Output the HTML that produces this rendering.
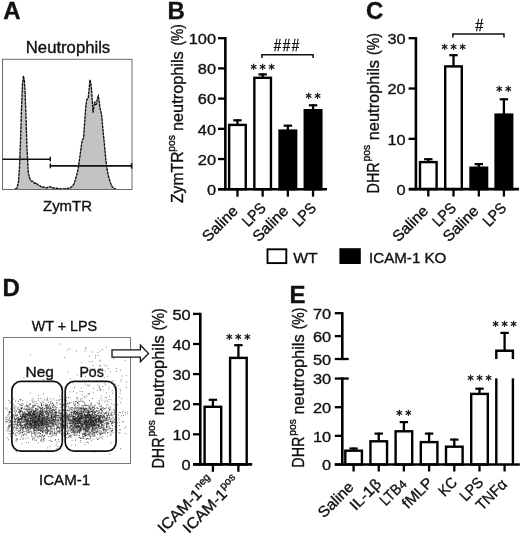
<!DOCTYPE html>
<html lang="en"><head><meta charset="utf-8"><title>Figure</title>
<style>html,body{margin:0;padding:0;background:#fff}svg{display:block}text{font-family:"Liberation Sans",sans-serif;fill:#111;stroke:#111;stroke-width:.35px}.st{font-family:"DejaVu Sans","Liberation Sans",sans-serif;stroke:#111;stroke-width:.45px;fill:#111}.ns{stroke:none}</style></head><body>
<svg width="520" height="537" viewBox="0 0 520 537">
<rect width="520" height="537" fill="#fff"/>
<text x="3.30" y="19.40" font-size="24" font-weight="bold" fill="#000">A</text>
<text x="167.50" y="19.40" font-size="24" font-weight="bold" fill="#000">B</text>
<text x="366.00" y="19.40" font-size="24" font-weight="bold" fill="#000">C</text>
<text x="2.60" y="296.40" font-size="24" font-weight="bold" fill="#000">D</text>
<text x="289.40" y="303.20" font-size="24" font-weight="bold" fill="#000">E</text>
<text x="68.00" y="52.90" font-size="15.6" text-anchor="middle" textLength="84.40" lengthAdjust="spacingAndGlyphs">Neutrophils</text>
<path d="M15.0 189.0 L17.0 188.0 L18.5 181.9 L19.5 166.6 L20.5 141.2 L21.5 108.6 L22.5 84.1 L23.4 76.0 L24.3 80.1 L25.0 90.3 L26.0 116.7 L27.0 148.3 L28.3 172.7 L29.5 177.8 L31.0 180.9 L33.0 181.4 L34.5 183.4 L36.0 182.9 L38.0 184.9 L40.0 185.9 L42.0 187.5 L44.0 187.0 L46.0 188.0 L48.0 187.5 L50.0 186.6 L52.0 187.5 L54.0 188.0 L58.0 188.5 L62.0 189.0 L66.0 188.5 L70.0 188.0 L72.0 186.5 L74.0 183.9 L76.0 177.8 L78.0 169.7 L79.5 159.5 L81.0 148.3 L82.0 141.2 L83.5 138.1 L84.5 124.9 L85.6 108.6 L86.7 100.0 L88.3 97.4 L89.2 88.2 L90.0 79.8 L90.8 83.1 L91.5 89.2 L92.3 100.4 L93.0 112.6 L93.9 106.5 L94.8 101.5 L95.6 104.5 L96.4 104.2 L97.4 98.4 L98.3 96.0 L99.2 101.5 L100.0 108.3 L101.0 111.6 L101.8 116.5 L103.0 130.0 L104.3 143.2 L106.0 161.5 L107.5 171.7 L109.0 178.3 L110.5 182.9 L112.0 186.6 L114.0 188.3 L116.0 189.0 Z" fill="#c3c3c3" stroke="none"/>
<path d="M15.0 189.0 L17.0 188.0 L18.5 181.9 L19.5 166.6 L20.5 141.2 L21.5 108.6 L22.5 84.1 L23.4 76.0 L24.3 80.1 L25.0 90.3 L26.0 116.7 L27.0 148.3 L28.3 172.7 L29.5 177.8 L31.0 180.9 L33.0 181.4 L34.5 183.4 L36.0 182.9 L38.0 184.9 L40.0 185.9 L42.0 187.5 L44.0 187.0 L46.0 188.0 L48.0 187.5 L50.0 186.6 L52.0 187.5 L54.0 188.0 L58.0 188.5 L62.0 189.0 L66.0 188.5 L70.0 188.0 L72.0 186.5 L74.0 183.9 L76.0 177.8 L78.0 169.7 L79.5 159.5 L81.0 148.3 L82.0 141.2 L83.5 138.1 L84.5 124.9 L85.6 108.6 L86.7 100.0 L88.3 97.4 L89.2 88.2 L90.0 79.8 L90.8 83.1 L91.5 89.2 L92.3 100.4 L93.0 112.6 L93.9 106.5 L94.8 101.5 L95.6 104.5 L96.4 104.2 L97.4 98.4 L98.3 96.0 L99.2 101.5 L100.0 108.3 L101.0 111.6 L101.8 116.5 L103.0 130.0 L104.3 143.2 L106.0 161.5 L107.5 171.7 L109.0 178.3 L110.5 182.9 L112.0 186.6 L114.0 188.3 L116.0 189.0" fill="none" stroke="#0a0a0a" stroke-width="1.3" stroke-dasharray="3 0.6"/>
<rect x="2.50" y="59.30" width="129.50" height="130.20" fill="none" stroke="#6a6a6a" stroke-width="1"/>
<line x1="2.50" y1="159.20" x2="50.30" y2="159.20" stroke="#111" stroke-width="1.6" stroke-linecap="butt"/>
<line x1="50.30" y1="156.80" x2="50.30" y2="161.60" stroke="#111" stroke-width="1.4" stroke-linecap="butt"/>
<line x1="50.30" y1="165.90" x2="132.00" y2="165.90" stroke="#111" stroke-width="1.6" stroke-linecap="butt"/>
<line x1="50.30" y1="163.60" x2="50.30" y2="168.20" stroke="#111" stroke-width="1.4" stroke-linecap="butt"/>
<line x1="131.60" y1="163.20" x2="131.60" y2="168.60" stroke="#111" stroke-width="1.6" stroke-linecap="butt"/>
<text x="67.50" y="211.00" font-size="15.2" text-anchor="middle" textLength="49.00" lengthAdjust="spacingAndGlyphs">ZymTR</text>
<line x1="225.35" y1="37.10" x2="225.35" y2="190.50" stroke="#000" stroke-width="2.6" stroke-linecap="butt"/>
<line x1="218.05" y1="189.25" x2="225.35" y2="189.25" stroke="#000" stroke-width="2.3" stroke-linecap="butt"/>
<text x="216.00" y="194.95" font-size="15.3" text-anchor="end" textLength="9.10" lengthAdjust="spacingAndGlyphs">0</text>
<line x1="218.05" y1="159.04" x2="225.35" y2="159.04" stroke="#000" stroke-width="2.3" stroke-linecap="butt"/>
<text x="216.00" y="164.74" font-size="15.3" text-anchor="end" textLength="18.20" lengthAdjust="spacingAndGlyphs">20</text>
<line x1="218.05" y1="128.83" x2="225.35" y2="128.83" stroke="#000" stroke-width="2.3" stroke-linecap="butt"/>
<text x="216.00" y="134.53" font-size="15.3" text-anchor="end" textLength="18.20" lengthAdjust="spacingAndGlyphs">40</text>
<line x1="218.05" y1="98.62" x2="225.35" y2="98.62" stroke="#000" stroke-width="2.3" stroke-linecap="butt"/>
<text x="216.00" y="104.32" font-size="15.3" text-anchor="end" textLength="18.20" lengthAdjust="spacingAndGlyphs">60</text>
<line x1="218.05" y1="68.41" x2="225.35" y2="68.41" stroke="#000" stroke-width="2.3" stroke-linecap="butt"/>
<text x="216.00" y="74.11" font-size="15.3" text-anchor="end" textLength="18.20" lengthAdjust="spacingAndGlyphs">80</text>
<line x1="218.05" y1="38.20" x2="225.35" y2="38.20" stroke="#000" stroke-width="2.3" stroke-linecap="butt"/>
<text x="216.00" y="43.90" font-size="15.3" text-anchor="end" textLength="27.30" lengthAdjust="spacingAndGlyphs">100</text>
<line x1="237.45" y1="119.40" x2="237.45" y2="124.70" stroke="#000" stroke-width="2.3" stroke-linecap="butt"/>
<line x1="233.25" y1="120.30" x2="241.65" y2="120.30" stroke="#000" stroke-width="2.2" stroke-linecap="butt"/>
<rect x="229.15" y="124.90" width="16.60" height="64.35" fill="#fff" stroke="#000" stroke-width="2.4"/>
<line x1="262.65" y1="73.50" x2="262.65" y2="77.60" stroke="#000" stroke-width="2.3" stroke-linecap="butt"/>
<line x1="258.45" y1="74.40" x2="266.85" y2="74.40" stroke="#000" stroke-width="2.2" stroke-linecap="butt"/>
<rect x="254.35" y="77.80" width="16.60" height="111.45" fill="#fff" stroke="#000" stroke-width="2.4"/>
<line x1="287.85" y1="124.80" x2="287.85" y2="130.40" stroke="#000" stroke-width="2.3" stroke-linecap="butt"/>
<line x1="283.65" y1="125.70" x2="292.05" y2="125.70" stroke="#000" stroke-width="2.2" stroke-linecap="butt"/>
<rect x="279.55" y="130.60" width="16.60" height="58.65" fill="#000" stroke="#000" stroke-width="2.4"/>
<line x1="313.05" y1="104.40" x2="313.05" y2="110.00" stroke="#000" stroke-width="2.3" stroke-linecap="butt"/>
<line x1="308.85" y1="105.30" x2="317.25" y2="105.30" stroke="#000" stroke-width="2.2" stroke-linecap="butt"/>
<rect x="304.75" y="110.20" width="16.60" height="79.05" fill="#000" stroke="#000" stroke-width="2.4"/>
<line x1="218.30" y1="189.25" x2="327.00" y2="189.25" stroke="#000" stroke-width="2.6" stroke-linecap="butt"/>
<line x1="237.45" y1="189.25" x2="237.45" y2="196.65" stroke="#000" stroke-width="2.3" stroke-linecap="butt"/>
<line x1="262.65" y1="189.25" x2="262.65" y2="196.65" stroke="#000" stroke-width="2.3" stroke-linecap="butt"/>
<line x1="287.85" y1="189.25" x2="287.85" y2="196.65" stroke="#000" stroke-width="2.3" stroke-linecap="butt"/>
<line x1="313.05" y1="189.25" x2="313.05" y2="196.65" stroke="#000" stroke-width="2.3" stroke-linecap="butt"/>
<path d="M261.90 58.10 V54.70 H313.10 V58.10" fill="none" stroke="#111" stroke-width="1.5"/>
<text x="277.60" y="50.80" font-size="15.8" text-anchor="middle" textLength="7.50" lengthAdjust="spacingAndGlyphs">#</text>
<text x="286.50" y="50.80" font-size="15.8" text-anchor="middle" textLength="7.50" lengthAdjust="spacingAndGlyphs">#</text>
<text x="295.40" y="50.80" font-size="15.8" text-anchor="middle" textLength="7.50" lengthAdjust="spacingAndGlyphs">#</text>
<text class="st" x="253.65 262.65 271.65" y="73.20" font-size="12.4" text-anchor="middle">***</text>
<text class="st" x="308.55 317.55" y="101.60" font-size="12.4" text-anchor="middle">**</text>
<g transform="translate(238.95,212.00) rotate(-45)">
<text x="-43.30" y="0.00" font-size="15.2" textLength="43.30" lengthAdjust="spacingAndGlyphs">Saline</text>
</g>
<g transform="translate(266.75,208.90) rotate(-45)">
<text x="-26.20" y="0.00" font-size="15.2" textLength="26.20" lengthAdjust="spacingAndGlyphs">LPS</text>
</g>
<g transform="translate(289.35,212.00) rotate(-45)">
<text x="-43.30" y="0.00" font-size="15.2" textLength="43.30" lengthAdjust="spacingAndGlyphs">Saline</text>
</g>
<g transform="translate(317.15,208.90) rotate(-45)">
<text x="-26.20" y="0.00" font-size="15.2" textLength="26.20" lengthAdjust="spacingAndGlyphs">LPS</text>
</g>
<g transform="translate(183.40,0) rotate(-90)">
<text x="-203.00" y="0.00" font-size="16" textLength="51.50" lengthAdjust="spacingAndGlyphs">ZymTR</text>
<text x="-151.70" y="-8.40" font-size="11.0" textLength="16.60" lengthAdjust="spacingAndGlyphs">pos</text>
<text x="-131.00" y="0.00" font-size="16" textLength="79.70" lengthAdjust="spacingAndGlyphs">neutrophils</text>
<text x="-45.60" y="0.00" font-size="16" textLength="21.30" lengthAdjust="spacingAndGlyphs">(%)</text>
</g>
<line x1="415.90" y1="37.09" x2="415.90" y2="190.40" stroke="#000" stroke-width="2.6" stroke-linecap="butt"/>
<line x1="408.60" y1="189.15" x2="415.90" y2="189.15" stroke="#000" stroke-width="2.3" stroke-linecap="butt"/>
<text x="405.70" y="194.85" font-size="15.3" text-anchor="end" textLength="9.10" lengthAdjust="spacingAndGlyphs">0</text>
<line x1="408.60" y1="138.83" x2="415.90" y2="138.83" stroke="#000" stroke-width="2.3" stroke-linecap="butt"/>
<text x="405.70" y="144.53" font-size="15.3" text-anchor="end" textLength="18.20" lengthAdjust="spacingAndGlyphs">10</text>
<line x1="408.60" y1="88.51" x2="415.90" y2="88.51" stroke="#000" stroke-width="2.3" stroke-linecap="butt"/>
<text x="405.70" y="94.21" font-size="15.3" text-anchor="end" textLength="18.20" lengthAdjust="spacingAndGlyphs">20</text>
<line x1="408.60" y1="38.19" x2="415.90" y2="38.19" stroke="#000" stroke-width="2.3" stroke-linecap="butt"/>
<text x="405.70" y="43.89" font-size="15.3" text-anchor="end" textLength="18.20" lengthAdjust="spacingAndGlyphs">30</text>
<line x1="428.30" y1="158.30" x2="428.30" y2="161.90" stroke="#000" stroke-width="2.3" stroke-linecap="butt"/>
<line x1="424.10" y1="159.20" x2="432.50" y2="159.20" stroke="#000" stroke-width="2.2" stroke-linecap="butt"/>
<rect x="420.00" y="162.10" width="16.60" height="27.05" fill="#fff" stroke="#000" stroke-width="2.4"/>
<line x1="453.50" y1="54.30" x2="453.50" y2="66.20" stroke="#000" stroke-width="2.3" stroke-linecap="butt"/>
<line x1="449.30" y1="55.20" x2="457.70" y2="55.20" stroke="#000" stroke-width="2.2" stroke-linecap="butt"/>
<rect x="445.20" y="66.40" width="16.60" height="122.75" fill="#fff" stroke="#000" stroke-width="2.4"/>
<line x1="478.80" y1="163.20" x2="478.80" y2="167.50" stroke="#000" stroke-width="2.3" stroke-linecap="butt"/>
<line x1="474.60" y1="164.10" x2="483.00" y2="164.10" stroke="#000" stroke-width="2.2" stroke-linecap="butt"/>
<rect x="470.50" y="167.70" width="16.60" height="21.45" fill="#000" stroke="#000" stroke-width="2.4"/>
<line x1="503.90" y1="98.40" x2="503.90" y2="114.40" stroke="#000" stroke-width="2.3" stroke-linecap="butt"/>
<line x1="499.70" y1="99.30" x2="508.10" y2="99.30" stroke="#000" stroke-width="2.2" stroke-linecap="butt"/>
<rect x="495.60" y="114.60" width="16.60" height="74.55" fill="#000" stroke="#000" stroke-width="2.4"/>
<line x1="409.00" y1="189.15" x2="519.00" y2="189.15" stroke="#000" stroke-width="2.6" stroke-linecap="butt"/>
<line x1="428.30" y1="189.15" x2="428.30" y2="196.55" stroke="#000" stroke-width="2.3" stroke-linecap="butt"/>
<line x1="453.50" y1="189.15" x2="453.50" y2="196.55" stroke="#000" stroke-width="2.3" stroke-linecap="butt"/>
<line x1="478.80" y1="189.15" x2="478.80" y2="196.55" stroke="#000" stroke-width="2.3" stroke-linecap="butt"/>
<line x1="503.90" y1="189.15" x2="503.90" y2="196.55" stroke="#000" stroke-width="2.3" stroke-linecap="butt"/>
<path d="M452.90 37.50 V34.10 H504.00 V37.50" fill="none" stroke="#111" stroke-width="1.5"/>
<text x="479.20" y="31.30" font-size="15.8" text-anchor="middle" textLength="8.00" lengthAdjust="spacingAndGlyphs">#</text>
<text class="st" x="444.50 453.50 462.50" y="52.80" font-size="12.4" text-anchor="middle">***</text>
<text class="st" x="499.40 508.40" y="95.20" font-size="12.4" text-anchor="middle">**</text>
<g transform="translate(429.20,212.00) rotate(-45)">
<text x="-43.30" y="0.00" font-size="15.2" textLength="43.30" lengthAdjust="spacingAndGlyphs">Saline</text>
</g>
<g transform="translate(457.00,208.90) rotate(-45)">
<text x="-26.20" y="0.00" font-size="15.2" textLength="26.20" lengthAdjust="spacingAndGlyphs">LPS</text>
</g>
<g transform="translate(479.70,212.00) rotate(-45)">
<text x="-43.30" y="0.00" font-size="15.2" textLength="43.30" lengthAdjust="spacingAndGlyphs">Saline</text>
</g>
<g transform="translate(507.40,208.90) rotate(-45)">
<text x="-26.20" y="0.00" font-size="15.2" textLength="26.20" lengthAdjust="spacingAndGlyphs">LPS</text>
</g>
<g transform="translate(378.80,0) rotate(-90)">
<text x="-193.40" y="0.00" font-size="16" textLength="31.10" lengthAdjust="spacingAndGlyphs">DHR</text>
<text x="-161.40" y="-8.40" font-size="11.0" textLength="16.50" lengthAdjust="spacingAndGlyphs">pos</text>
<text x="-140.30" y="0.00" font-size="16" textLength="80.30" lengthAdjust="spacingAndGlyphs">neutrophils</text>
<text x="-55.00" y="0.00" font-size="16" textLength="21.80" lengthAdjust="spacingAndGlyphs">(%)</text>
</g>
<rect x="267.50" y="249.30" width="18.80" height="13.80" fill="#fff" stroke="#000" stroke-width="1.9"/>
<text x="293.30" y="263.30" font-size="15.2" textLength="24.40" lengthAdjust="spacingAndGlyphs">WT</text>
<rect x="339.40" y="248.20" width="21.40" height="15.80" fill="#000" stroke="#000" stroke-width="0"/>
<text x="369.00" y="263.30" font-size="15.2" textLength="77.40" lengthAdjust="spacingAndGlyphs">ICAM-1 KO</text>
<text x="64.40" y="331.40" font-size="15.2" text-anchor="middle" textLength="65.40" lengthAdjust="spacingAndGlyphs">WT + LPS</text>
<path d="M31.4 424.0h.9M31.8 417.5h.9M22.0 418.3h.9M50.6 423.3h.9M49.5 421.9h.9M40.5 421.4h.9M11.7 426.7h.9M42.1 423.9h.9M11.3 406.4h.9M22.5 416.3h.9M39.3 419.6h.9M42.3 415.0h.9M39.3 423.1h.9M25.7 433.4h.9M42.8 429.3h.9M26.3 414.2h.9M30.2 419.2h.9M43.8 421.9h.9M28.7 412.5h.9M27.7 429.5h.9M23.7 421.9h.9M41.0 408.4h.9M35.7 430.2h.9M6.8 417.5h.9M33.5 413.6h.9M42.0 419.5h.9M14.5 426.5h.9M44.4 427.4h.9M55.2 422.8h.9M36.7 409.9h.9M43.6 415.2h.9M28.7 410.1h.9M21.5 415.9h.9M53.0 404.2h.9M14.6 421.9h.9M55.2 424.5h.9M8.4 400.4h.9M40.0 414.3h.9M19.3 427.6h.9M50.4 421.2h.9M38.4 423.4h.9M57.3 424.8h.9M42.3 424.3h.9M13.0 430.0h.9M48.4 424.1h.9M7.4 415.1h.9M46.8 405.9h.9M32.4 428.0h.9M16.6 432.6h.9M42.7 418.8h.9M39.5 425.1h.9M36.7 428.9h.9M25.7 416.8h.9M49.6 420.2h.9M22.7 427.4h.9M55.5 416.5h.9M15.7 418.9h.9M32.9 417.7h.9M54.7 412.0h.9M52.6 410.1h.9M24.0 424.9h.9M50.8 426.7h.9M39.8 421.1h.9M37.1 424.5h.9M32.5 422.2h.9M43.0 420.0h.9M45.7 424.4h.9M63.1 422.5h.9M29.0 417.1h.9M34.8 427.2h.9M30.3 423.0h.9M60.7 400.0h.9M19.3 421.9h.9M40.6 421.9h.9M29.0 425.1h.9M38.9 415.9h.9M69.0 422.8h.9M27.2 419.2h.9M31.8 419.5h.9M49.1 410.9h.9M34.1 427.4h.9M47.0 431.6h.9M11.2 417.2h.9M30.2 424.9h.9M50.3 399.1h.9M50.2 408.7h.9M44.6 408.4h.9M37.5 429.3h.9M32.9 421.5h.9M46.2 421.1h.9M33.8 432.0h.9M49.7 417.7h.9M73.4 411.1h.9M47.8 417.9h.9M36.9 425.5h.9M38.1 425.0h.9M13.6 408.2h.9M43.6 412.5h.9M20.6 408.5h.9M52.7 425.8h.9M55.6 412.7h.9M35.0 411.1h.9M45.7 432.4h.9M22.5 432.2h.9M48.8 418.6h.9M7.4 431.0h.9M33.7 415.3h.9M40.6 423.2h.9M56.0 412.0h.9M50.9 431.6h.9M55.3 418.6h.9M24.6 427.9h.9M36.6 421.0h.9M54.9 417.9h.9M9.0 426.4h.9M39.4 415.2h.9M34.9 426.5h.9M36.1 430.3h.9M34.1 428.1h.9M55.9 432.6h.9M25.6 426.9h.9M8.7 411.5h.9M7.5 428.3h.9M17.8 419.9h.9M32.3 419.8h.9M26.7 421.8h.9M60.1 420.3h.9M42.4 427.8h.9M32.2 410.2h.9M27.2 428.4h.9M12.0 415.3h.9M49.1 426.2h.9M35.1 426.3h.9M37.3 410.8h.9M13.1 415.0h.9M47.9 415.6h.9M22.4 414.0h.9M13.6 419.1h.9M18.5 422.8h.9M26.0 404.9h.9M45.1 417.9h.9M39.1 416.4h.9M45.9 425.8h.9M44.3 422.5h.9M53.7 425.1h.9M41.3 403.7h.9M47.6 430.2h.9M30.8 416.3h.9M62.2 406.3h.9M41.6 438.9h.9M22.0 425.4h.9M61.4 419.1h.9M42.9 427.0h.9M22.3 419.3h.9M39.1 426.4h.9M34.5 418.5h.9M20.8 417.2h.9M47.5 420.8h.9M23.1 413.4h.9M72.3 428.9h.9M43.9 399.8h.9M43.7 423.7h.9M58.6 423.3h.9M34.1 424.1h.9M7.8 428.1h.9M39.5 414.5h.9M53.6 434.1h.9M15.4 414.8h.9M39.1 421.4h.9M29.4 412.4h.9M64.7 428.1h.9M18.3 409.5h.9M58.8 427.7h.9M60.5 426.3h.9M22.8 422.0h.9M34.2 424.1h.9M24.8 419.0h.9M41.4 422.9h.9M43.9 421.6h.9M30.5 426.2h.9M35.7 413.6h.9M26.2 420.0h.9M33.5 421.2h.9M35.0 421.4h.9M33.1 410.2h.9M40.9 428.2h.9M41.1 418.5h.9M41.3 412.5h.9M8.5 420.5h.9M22.0 425.8h.9M19.8 399.5h.9M20.4 432.3h.9M29.7 409.3h.9M24.3 424.1h.9M42.0 421.4h.9M55.8 425.5h.9M34.7 424.7h.9M58.2 427.6h.9M49.3 411.6h.9M32.9 425.7h.9M30.8 428.3h.9M43.3 427.1h.9M32.0 439.9h.9M52.4 418.3h.9M36.3 440.2h.9M30.2 426.8h.9M48.7 420.1h.9M18.7 421.5h.9M40.0 428.8h.9M46.0 420.2h.9M47.0 424.2h.9M37.9 420.4h.9M31.6 425.4h.9M20.2 415.1h.9M35.1 408.6h.9M28.9 404.3h.9M25.4 424.4h.9M42.9 419.6h.9M31.8 408.9h.9M60.6 424.0h.9M50.3 413.1h.9M32.4 405.8h.9M45.9 427.3h.9M8.4 419.6h.9M43.8 406.3h.9M9.4 411.7h.9M26.2 409.1h.9M35.4 421.9h.9M43.9 425.5h.9M56.0 429.1h.9M16.6 416.1h.9M20.2 411.6h.9M33.9 420.0h.9M41.9 407.6h.9M17.7 419.8h.9M32.2 417.6h.9M34.1 414.1h.9M44.8 422.8h.9M33.8 414.8h.9M32.6 398.8h.9M21.3 420.3h.9M13.9 421.6h.9M37.1 409.3h.9M31.5 417.6h.9M41.4 424.8h.9M34.5 413.4h.9M33.0 419.5h.9M45.3 422.3h.9M24.9 409.4h.9M29.8 414.2h.9M19.4 419.1h.9M28.1 420.8h.9M42.3 416.8h.9M67.5 417.5h.9M50.4 420.9h.9M50.6 401.5h.9M24.5 421.9h.9M43.4 438.2h.9M39.5 430.0h.9M45.7 427.4h.9M42.1 418.8h.9M42.1 411.6h.9M51.5 412.1h.9M38.5 436.5h.9M31.9 420.2h.9M51.3 420.2h.9M23.7 422.0h.9M43.1 425.5h.9M24.2 433.7h.9M58.3 420.1h.9M38.8 416.7h.9M54.8 414.5h.9M44.4 416.3h.9M25.3 425.6h.9M53.7 419.9h.9M25.5 426.3h.9M34.3 422.4h.9M56.3 428.8h.9M27.7 437.8h.9M35.0 426.1h.9M25.9 419.7h.9M10.5 433.9h.9M54.1 410.5h.9M13.9 407.4h.9M51.5 416.4h.9M34.2 417.6h.9M33.3 411.5h.9M35.3 408.8h.9M34.0 422.4h.9M41.5 418.2h.9M22.3 421.2h.9M28.2 432.2h.9M45.7 419.1h.9M28.4 414.5h.9M21.9 417.2h.9M39.1 424.0h.9M43.0 436.4h.9M25.1 420.1h.9M74.1 405.4h.9M27.7 421.3h.9M37.2 423.2h.9M31.7 422.9h.9M35.7 426.0h.9M8.5 413.1h.9M35.0 412.0h.9M20.4 424.9h.9M25.9 425.0h.9M45.4 422.4h.9M42.1 419.2h.9M15.3 419.8h.9M41.4 415.9h.9M33.6 425.8h.9M22.7 425.0h.9M61.1 415.7h.9M37.1 418.8h.9M56.6 422.5h.9M47.6 414.6h.9M34.8 419.9h.9M10.1 431.2h.9M47.6 406.4h.9M45.4 419.0h.9M41.3 422.9h.9M14.0 418.3h.9M55.9 415.5h.9M20.7 409.4h.9M17.9 422.6h.9M58.7 423.3h.9M38.4 437.4h.9M27.7 414.7h.9M42.4 424.3h.9M20.8 410.9h.9M39.1 421.9h.9M16.7 418.4h.9M27.4 423.6h.9M33.4 419.3h.9M30.1 428.2h.9M54.5 417.1h.9M46.8 414.1h.9M36.0 425.8h.9M56.2 417.0h.9M34.0 421.5h.9M14.0 420.1h.9M25.5 422.9h.9M19.2 404.6h.9M35.5 422.0h.9M27.3 426.9h.9M31.2 415.3h.9M41.7 407.8h.9M25.5 419.8h.9M46.9 418.7h.9M39.3 414.9h.9M39.2 433.0h.9M25.4 438.5h.9M26.0 420.1h.9M37.4 428.0h.9M17.7 403.6h.9M43.5 426.2h.9M43.7 440.5h.9M37.9 422.0h.9M48.0 422.9h.9M58.3 410.3h.9M29.7 393.1h.9M46.4 417.1h.9M47.9 436.8h.9M34.9 418.0h.9M28.0 413.5h.9M26.2 425.0h.9M35.5 420.5h.9M32.6 427.1h.9M41.9 418.9h.9M44.3 418.8h.9M18.9 431.4h.9M41.5 412.5h.9M50.1 422.7h.9M13.1 432.6h.9M39.7 427.0h.9M37.8 418.8h.9M13.3 427.6h.9M35.4 417.8h.9M39.9 420.6h.9M44.5 417.1h.9M34.5 403.3h.9M29.1 425.3h.9M53.7 417.2h.9M33.3 432.4h.9M30.4 425.7h.9M58.5 420.3h.9M52.2 414.5h.9M37.9 419.4h.9M36.6 428.8h.9M68.5 414.8h.9M26.9 423.9h.9M20.2 423.9h.9M43.0 417.8h.9M42.4 407.9h.9M45.6 408.0h.9M25.2 415.7h.9M29.4 426.7h.9M36.1 416.9h.9M42.6 432.3h.9M35.1 422.9h.9M52.4 422.1h.9M17.0 439.4h.9M65.9 404.5h.9M34.5 423.3h.9M48.5 425.2h.9M31.2 411.8h.9M36.4 428.1h.9M19.7 412.0h.9M34.7 404.9h.9M31.4 416.6h.9M41.3 414.5h.9M22.7 416.9h.9M34.3 414.8h.9M35.2 425.9h.9M51.6 433.3h.9M24.0 416.7h.9M24.9 419.7h.9M42.3 409.4h.9M41.5 419.8h.9M9.4 422.3h.9M51.7 405.4h.9M46.3 421.6h.9M41.6 423.4h.9M53.3 418.3h.9M47.2 416.8h.9M45.2 413.7h.9M33.5 433.5h.9M41.2 418.8h.9M19.0 413.8h.9M37.7 427.3h.9M41.0 424.1h.9M34.4 430.5h.9M29.5 415.7h.9M47.4 420.5h.9M31.1 415.5h.9M31.4 424.9h.9M40.0 410.6h.9M41.0 421.4h.9M21.0 426.0h.9M31.1 417.4h.9M46.1 430.3h.9M25.4 423.4h.9M22.7 438.1h.9M28.1 429.3h.9M25.9 426.3h.9M66.1 400.2h.9M28.9 423.9h.9M33.7 414.8h.9M65.1 420.6h.9M12.0 426.7h.9M10.9 429.0h.9M26.9 421.1h.9M52.7 420.9h.9M15.5 406.8h.9M51.6 425.8h.9M23.6 426.7h.9M42.0 425.1h.9M47.6 425.7h.9M47.3 400.8h.9M37.4 423.8h.9M70.7 412.6h.9M30.4 420.3h.9M47.4 416.5h.9M51.1 413.9h.9M38.7 415.9h.9M37.2 414.6h.9M12.6 428.5h.9M39.2 415.6h.9M37.8 427.7h.9M21.3 419.1h.9M42.5 424.1h.9M30.3 403.6h.9M52.4 422.6h.9M35.2 417.8h.9M38.7 416.7h.9M20.7 414.2h.9M26.6 415.2h.9M18.8 425.0h.9M16.7 425.1h.9M20.8 422.7h.9M54.2 421.6h.9M24.8 420.4h.9M37.1 406.5h.9M26.5 421.3h.9M28.4 420.6h.9M45.3 426.0h.9M47.7 424.6h.9M31.0 419.9h.9M31.2 417.6h.9M32.5 406.5h.9M30.3 419.8h.9M21.4 419.8h.9M42.2 418.7h.9M64.1 399.7h.9M32.1 405.8h.9M48.7 440.7h.9M42.3 417.6h.9M42.7 402.5h.9M46.9 422.9h.9M35.3 415.4h.9M43.9 416.2h.9M38.1 416.0h.9M37.8 425.9h.9M22.7 419.7h.9M43.6 421.1h.9M52.4 435.5h.9M22.3 405.0h.9M47.0 431.9h.9M47.9 426.3h.9M26.3 414.4h.9M47.4 412.9h.9M9.6 412.2h.9M69.9 435.0h.9M25.4 414.3h.9M38.2 414.2h.9M53.3 419.4h.9M19.8 430.2h.9M26.8 421.7h.9M34.8 417.5h.9M39.5 414.6h.9M9.2 402.8h.9M17.3 414.1h.9M34.7 420.4h.9M42.8 420.9h.9M23.9 414.5h.9M5.3 418.7h.9M41.8 424.1h.9M33.3 418.6h.9M48.1 420.1h.9M45.3 424.5h.9M38.0 430.2h.9M27.0 417.2h.9M23.7 413.8h.9M56.8 433.7h.9M35.3 424.4h.9M51.5 426.3h.9M51.9 410.1h.9M26.0 423.5h.9M55.1 420.8h.9M23.0 417.2h.9M25.8 413.3h.9M56.0 415.1h.9M35.3 436.9h.9M51.6 422.6h.9M26.4 423.2h.9M57.7 424.9h.9M52.7 420.8h.9M42.2 418.4h.9M41.0 430.1h.9M15.0 419.5h.9M38.4 415.5h.9M30.7 426.1h.9M63.0 424.9h.9M39.6 407.9h.9M62.0 420.6h.9M34.5 411.3h.9M34.2 411.5h.9M36.0 423.6h.9M35.4 422.2h.9M23.1 431.2h.9M25.9 405.8h.9M32.4 414.0h.9M20.9 417.2h.9M39.1 410.8h.9M33.1 431.1h.9M44.6 418.8h.9M36.8 419.1h.9M34.3 425.7h.9M33.7 401.2h.9M34.7 413.1h.9M44.1 415.2h.9M37.1 437.0h.9M20.3 411.2h.9M15.2 401.3h.9M8.7 422.8h.9M26.1 405.4h.9M14.2 424.8h.9M24.1 417.1h.9M39.6 430.6h.9M62.2 428.1h.9M37.0 421.4h.9M60.2 431.1h.9M30.7 423.6h.9M39.0 420.4h.9M28.0 409.7h.9M27.5 408.0h.9M52.1 424.2h.9M18.1 430.9h.9M47.5 405.1h.9M60.8 426.3h.9M63.9 410.4h.9M42.4 423.3h.9M37.8 421.3h.9M49.7 408.3h.9M17.6 409.1h.9M27.2 415.3h.9M40.1 422.1h.9M35.4 414.7h.9M28.8 427.4h.9M45.7 420.8h.9M30.5 432.1h.9M26.7 425.1h.9M51.2 417.9h.9M46.6 411.3h.9M49.2 421.6h.9M12.8 425.2h.9M22.5 430.0h.9M25.5 418.7h.9M39.0 417.4h.9M38.6 415.7h.9M44.4 420.0h.9M38.0 398.5h.9M51.3 420.2h.9M10.0 420.7h.9M41.5 428.4h.9M19.8 432.1h.9M32.8 438.7h.9M33.0 425.3h.9M29.9 411.3h.9M50.4 427.1h.9M56.5 426.7h.9M27.0 407.0h.9M25.9 414.7h.9M23.6 424.5h.9M39.6 417.9h.9M37.4 418.9h.9M38.0 425.9h.9M48.4 414.6h.9M13.9 431.1h.9M36.6 428.6h.9M12.0 417.4h.9M35.4 408.8h.9M27.8 425.7h.9M50.1 432.4h.9M22.9 409.1h.9M42.3 427.3h.9M37.7 409.8h.9M45.9 426.2h.9M42.7 416.2h.9M39.3 426.2h.9M27.2 405.6h.9M39.6 423.8h.9M35.2 426.9h.9M26.8 419.4h.9M30.7 424.5h.9M57.3 418.0h.9M63.8 431.9h.9M46.1 424.6h.9M59.8 418.6h.9M33.4 411.7h.9M41.6 430.5h.9M42.5 423.3h.9M32.2 421.3h.9M15.0 428.2h.9M29.3 411.4h.9M24.5 413.6h.9M47.0 428.3h.9M16.0 427.2h.9M47.4 415.5h.9M14.2 414.2h.9M26.1 422.7h.9M30.0 404.2h.9M38.3 408.0h.9M47.7 410.6h.9M25.3 413.3h.9M27.4 430.1h.9M46.9 424.7h.9M39.5 407.9h.9M27.7 415.7h.9M21.3 424.0h.9M24.6 414.5h.9M20.4 404.0h.9M43.3 430.4h.9M37.4 412.4h.9M52.0 422.3h.9M48.0 431.5h.9M50.8 416.6h.9M49.7 426.1h.9M13.5 416.8h.9M15.1 419.1h.9M43.1 411.7h.9M6.2 430.1h.9M40.3 431.5h.9M16.5 428.3h.9M64.0 435.7h.9M32.1 422.1h.9M32.8 427.8h.9M49.5 420.7h.9M16.0 425.8h.9M28.4 424.9h.9M38.7 432.7h.9M50.9 416.5h.9M39.9 433.8h.9M27.5 423.4h.9M51.7 429.8h.9M42.3 409.7h.9M17.3 421.9h.9M40.4 439.9h.9M22.9 428.9h.9M45.8 407.0h.9M23.5 421.3h.9M28.1 418.8h.9M41.6 413.7h.9M41.5 415.0h.9M27.4 424.2h.9M27.0 422.2h.9M57.4 420.2h.9M33.0 425.7h.9M29.9 428.4h.9M17.0 424.8h.9M27.8 413.8h.9M59.8 413.4h.9M59.6 425.1h.9M55.3 412.4h.9M51.8 431.4h.9M33.4 419.0h.9M69.4 421.4h.9M29.1 415.1h.9M41.2 422.6h.9M37.5 433.4h.9M30.4 423.7h.9M55.4 412.2h.9M49.5 434.3h.9M16.0 411.4h.9M20.5 405.6h.9M41.3 405.5h.9M42.0 431.3h.9M12.4 417.5h.9M8.1 426.1h.9M24.7 417.9h.9M35.8 424.3h.9M30.1 420.1h.9M27.3 420.9h.9M18.6 420.5h.9M7.9 416.2h.9M61.8 420.6h.9M17.4 422.0h.9M21.4 407.1h.9M24.7 425.7h.9M40.4 419.2h.9M22.0 411.6h.9M53.9 421.9h.9M21.7 403.5h.9M15.8 439.3h.9M18.9 419.4h.9M37.9 418.8h.9M31.1 409.3h.9M20.3 433.2h.9M24.4 426.6h.9M11.3 417.9h.9M38.7 428.1h.9M19.3 424.6h.9M40.4 414.2h.9M41.7 413.0h.9M23.9 419.9h.9M21.0 408.6h.9M29.0 426.0h.9M29.3 429.9h.9M18.8 409.8h.9M56.7 423.1h.9M48.2 413.6h.9M46.3 422.0h.9M44.1 420.2h.9M51.9 414.9h.9M21.5 408.5h.9M51.2 414.2h.9M20.4 412.7h.9M28.8 410.1h.9M30.9 415.1h.9M27.3 412.5h.9M35.5 416.4h.9M36.6 421.9h.9M39.8 402.9h.9M27.5 413.8h.9M45.8 407.7h.9M25.0 417.7h.9M30.3 427.7h.9M28.8 427.5h.9M14.5 405.9h.9M52.1 423.4h.9M41.8 421.0h.9M41.8 410.5h.9M48.3 415.8h.9M48.8 420.7h.9M7.4 410.0h.9M50.8 418.9h.9M29.5 421.9h.9M29.0 415.8h.9M36.4 421.1h.9M56.2 420.4h.9M61.3 434.1h.9M59.0 428.3h.9M36.8 421.1h.9M33.0 414.3h.9M34.1 415.0h.9M58.0 424.2h.9M28.7 405.1h.9M34.3 416.8h.9M19.8 411.1h.9M34.1 440.1h.9M34.6 418.8h.9M55.2 421.0h.9M37.3 417.1h.9M26.5 431.7h.9M49.0 433.4h.9M30.1 420.2h.9M22.7 427.5h.9M15.5 424.4h.9M50.3 431.0h.9M21.8 428.5h.9M25.0 414.1h.9M16.5 429.0h.9M58.1 415.4h.9M24.4 417.4h.9M70.1 427.8h.9M27.4 406.0h.9M25.6 429.3h.9M61.1 417.9h.9M25.3 416.0h.9M8.6 427.1h.9M19.8 428.3h.9M11.1 410.1h.9M39.0 414.0h.9M45.9 420.1h.9M18.6 424.9h.9M46.8 405.1h.9M60.6 423.9h.9M45.6 405.5h.9M24.9 417.3h.9M50.1 408.6h.9M22.6 404.2h.9M31.6 422.7h.9M11.4 415.4h.9M42.1 432.4h.9M44.3 417.6h.9M18.5 412.7h.9M25.7 421.1h.9M34.3 433.0h.9M39.0 411.6h.9M56.6 427.4h.9M36.4 414.4h.9M8.8 412.0h.9M47.8 413.7h.9M16.5 421.5h.9M38.4 424.7h.9M44.2 431.0h.9M23.2 427.6h.9M21.2 425.4h.9M37.5 421.9h.9M48.5 419.9h.9M50.6 426.8h.9M36.9 415.6h.9M24.5 415.9h.9M32.2 419.8h.9M76.7 425.0h.9M45.8 413.3h.9M25.1 417.5h.9M37.7 411.9h.9M57.6 415.6h.9M50.1 401.8h.9M34.9 422.2h.9M37.7 424.7h.9M38.9 421.3h.9M8.5 414.4h.9M39.3 418.5h.9M23.5 415.5h.9M60.8 433.5h.9M34.2 430.0h.9M12.8 404.9h.9M28.2 413.2h.9M27.2 421.5h.9M77.3 414.8h.9M35.7 422.2h.9M34.5 427.3h.9M59.9 410.3h.9M37.3 417.9h.9M40.0 408.1h.9M10.4 401.9h.9M42.4 421.5h.9M36.0 401.5h.9M29.8 414.1h.9M15.2 412.9h.9M44.8 424.2h.9M34.7 424.0h.9M26.6 420.6h.9M35.6 424.3h.9M34.0 418.9h.9M33.1 415.0h.9M66.3 424.0h.9M41.0 437.9h.9M54.6 407.9h.9M44.7 426.5h.9M61.4 430.3h.9M45.8 410.8h.9M22.8 422.1h.9M42.1 412.0h.9M29.6 416.9h.9M35.8 422.6h.9M31.0 410.4h.9M52.4 432.4h.9M33.5 428.0h.9M41.2 425.1h.9M41.7 414.0h.9M43.0 427.9h.9M22.5 435.3h.9M64.3 434.2h.9M62.8 425.8h.9M30.3 415.3h.9M23.6 420.9h.9M34.5 425.2h.9M6.7 438.0h.9M66.9 419.8h.9M44.5 423.7h.9M38.8 418.4h.9M33.3 413.6h.9M37.5 419.8h.9M39.5 413.3h.9M35.6 420.4h.9M43.5 411.7h.9M40.9 427.7h.9M43.4 417.1h.9M28.1 418.2h.9M45.2 432.1h.9M32.8 415.0h.9M40.3 421.6h.9M22.3 414.2h.9M33.6 425.2h.9M18.3 412.1h.9M42.0 410.4h.9M36.5 422.7h.9M33.4 412.1h.9M34.2 417.4h.9M39.7 413.5h.9M50.3 406.9h.9M32.5 420.1h.9M48.5 415.3h.9M42.6 415.6h.9M45.3 433.6h.9M29.4 423.5h.9M22.0 427.6h.9M52.0 420.3h.9M19.1 423.1h.9M51.1 428.5h.9M46.4 405.7h.9M25.5 431.1h.9M17.8 428.8h.9M61.4 425.9h.9M50.7 417.4h.9M17.8 419.2h.9M32.2 419.6h.9M44.8 418.9h.9M37.7 423.3h.9M34.9 434.4h.9M41.2 420.7h.9M32.1 415.1h.9M53.8 421.2h.9M19.9 415.6h.9M33.1 416.5h.9M50.2 410.9h.9M41.9 421.1h.9M18.5 420.4h.9M33.7 423.9h.9M28.7 422.4h.9M11.7 411.5h.9M46.0 428.1h.9M34.8 415.3h.9M50.2 403.7h.9M23.8 425.2h.9M44.1 411.9h.9M8.6 431.3h.9M37.1 413.0h.9M35.8 427.0h.9M45.4 403.8h.9M45.8 406.1h.9M51.0 423.1h.9M66.5 415.2h.9M35.1 428.2h.9M26.0 414.5h.9M29.8 419.4h.9M19.8 423.8h.9M42.6 420.6h.9M58.8 417.4h.9M53.3 415.7h.9M45.6 404.9h.9M37.8 418.6h.9M28.1 415.2h.9M30.1 414.4h.9M27.3 415.9h.9M20.2 418.9h.9M46.0 418.0h.9M28.1 430.6h.9M48.7 427.2h.9M51.2 417.4h.9M33.2 428.7h.9M27.2 419.1h.9M40.3 422.9h.9M31.1 427.7h.9M32.5 425.7h.9M50.0 425.1h.9M45.3 411.0h.9M16.6 415.2h.9M41.7 431.7h.9M17.9 422.4h.9M23.0 414.3h.9M31.1 425.4h.9M38.0 429.2h.9M21.2 426.9h.9M48.0 420.5h.9M41.7 415.6h.9M19.7 416.8h.9M26.0 442.5h.9M28.2 432.9h.9M37.8 422.4h.9M45.4 413.9h.9M47.8 422.9h.9M13.8 424.7h.9M42.7 423.5h.9M57.2 416.8h.9M42.2 425.8h.9M22.4 429.4h.9M14.7 409.9h.9M42.3 411.5h.9M33.4 407.2h.9M36.0 411.2h.9M39.8 408.0h.9M41.3 417.9h.9M35.9 419.5h.9M36.8 409.7h.9M21.9 416.5h.9M41.0 404.5h.9M24.3 415.2h.9M20.2 422.5h.9M33.0 413.6h.9M21.2 426.3h.9M25.8 424.6h.9M41.3 405.2h.9M19.8 420.0h.9M39.8 426.1h.9M46.2 428.1h.9M29.8 418.4h.9M45.9 416.7h.9M49.8 407.6h.9M44.1 418.6h.9M7.5 427.6h.9M39.4 420.2h.9M19.9 416.4h.9M56.2 413.5h.9M18.2 419.0h.9M29.5 412.9h.9M23.2 428.2h.9M14.8 435.3h.9M27.4 411.5h.9M46.0 424.4h.9M20.4 425.8h.9M9.2 412.8h.9M50.8 418.0h.9M16.8 424.0h.9M47.8 419.8h.9M9.7 417.3h.9M40.9 426.0h.9M60.9 418.0h.9M28.2 419.7h.9M51.9 412.7h.9M53.3 398.6h.9M46.2 414.7h.9M41.4 425.4h.9M18.4 419.3h.9M38.4 424.6h.9M22.0 412.3h.9M8.1 439.8h.9M32.3 418.3h.9M14.1 427.3h.9M27.5 431.2h.9M46.9 420.2h.9M45.2 411.3h.9M30.4 415.5h.9M17.2 420.1h.9M33.0 431.2h.9M22.1 416.4h.9M40.9 423.1h.9M35.4 416.3h.9M41.9 422.8h.9M9.2 418.0h.9M15.8 410.8h.9M37.1 420.5h.9M36.6 413.2h.9M32.2 412.9h.9M40.3 425.4h.9M59.6 429.9h.9M23.7 416.4h.9M21.9 422.4h.9M62.7 425.5h.9M16.9 424.0h.9M35.0 422.3h.9M59.9 413.5h.9M23.1 435.3h.9M39.8 413.9h.9M6.6 408.1h.9M35.6 427.7h.9M33.1 414.6h.9M24.6 434.8h.9M10.3 421.4h.9M35.4 424.8h.9M29.3 423.9h.9M46.4 418.9h.9M28.6 418.5h.9M21.5 418.4h.9M30.8 421.6h.9M53.7 430.2h.9M28.8 424.7h.9M39.1 425.9h.9M35.3 422.1h.9M28.4 413.9h.9M47.2 430.1h.9M44.3 423.4h.9M38.7 416.5h.9M10.0 425.2h.9M37.8 415.7h.9M21.5 430.0h.9M9.7 433.7h.9M44.0 438.5h.9M25.0 419.8h.9M27.9 421.2h.9M32.1 414.2h.9M50.0 413.9h.9M27.9 424.3h.9M27.5 416.6h.9M40.0 417.1h.9M17.5 419.2h.9M31.9 433.3h.9M19.6 427.6h.9M24.0 417.2h.9M30.4 422.1h.9M47.1 433.6h.9M26.1 430.4h.9M48.9 426.3h.9M24.4 427.0h.9M33.5 422.8h.9M31.2 425.2h.9M50.6 428.8h.9M32.1 427.8h.9M55.3 412.7h.9M55.6 409.6h.9M42.6 424.6h.9M55.8 422.2h.9M28.3 413.8h.9M17.5 426.0h.9M31.7 414.4h.9M42.4 414.0h.9M28.9 416.4h.9M58.2 431.4h.9M32.8 407.7h.9M38.9 420.6h.9M39.9 424.4h.9M30.5 427.2h.9M46.7 421.6h.9M29.3 416.3h.9M44.7 411.4h.9M32.8 414.2h.9M15.5 424.7h.9M34.6 420.3h.9M47.2 408.3h.9M34.1 422.3h.9M46.7 411.5h.9M45.0 421.7h.9M54.0 428.9h.9M42.7 436.8h.9M35.0 416.7h.9M30.2 412.7h.9M34.6 405.3h.9M33.8 423.3h.9M48.9 417.3h.9M54.4 414.9h.9M33.1 405.4h.9M24.3 413.8h.9M55.4 424.0h.9M19.9 424.1h.9M41.6 418.2h.9M35.3 417.7h.9M27.6 406.5h.9M33.8 429.8h.9M54.6 417.9h.9M24.8 418.4h.9M47.3 422.7h.9M27.0 422.8h.9M32.2 423.9h.9M29.4 408.8h.9M35.8 425.8h.9M19.9 419.2h.9M47.0 417.2h.9M26.1 435.4h.9M46.3 427.8h.9M22.1 432.4h.9M12.4 416.1h.9M45.1 430.1h.9M22.3 415.0h.9M37.7 405.4h.9M43.7 424.2h.9M28.9 424.1h.9M45.6 422.3h.9M42.1 431.5h.9M28.5 421.2h.9M27.9 427.8h.9M29.5 423.6h.9M36.9 420.5h.9M58.3 419.4h.9M54.2 426.2h.9M52.9 418.8h.9M47.6 425.7h.9M26.7 422.0h.9M33.3 419.7h.9M52.6 414.6h.9M12.2 406.9h.9M28.9 415.1h.9M35.2 424.3h.9M58.8 422.3h.9M41.3 414.5h.9M42.8 430.2h.9M53.1 405.3h.9M47.0 431.9h.9M46.2 408.8h.9M30.9 424.4h.9M40.6 413.9h.9M23.0 427.3h.9M17.0 430.8h.9M35.3 422.3h.9M17.0 415.5h.9M44.3 409.0h.9M62.9 409.5h.9M18.5 420.3h.9M41.5 425.5h.9M30.0 418.4h.9M31.8 415.7h.9M38.4 421.2h.9M26.5 421.9h.9M34.8 419.4h.9M49.9 407.1h.9M38.4 412.0h.9M30.7 431.2h.9M20.4 419.3h.9M27.0 427.1h.9M21.8 407.4h.9M41.9 417.3h.9M30.7 428.1h.9M23.1 417.2h.9M37.0 423.1h.9M28.1 427.8h.9M65.1 416.9h.9M60.1 404.2h.9M53.9 417.4h.9M36.8 417.5h.9M26.4 410.4h.9M29.7 429.7h.9M50.3 417.4h.9M27.9 414.7h.9M18.9 433.5h.9M43.9 420.9h.9M28.4 412.3h.9M52.7 425.8h.9M22.2 427.4h.9M20.1 424.8h.9M22.1 416.9h.9M41.7 423.2h.9M48.6 413.7h.9M56.2 430.1h.9M34.9 423.5h.9M24.5 418.9h.9M17.2 420.7h.9M37.7 430.1h.9M47.7 426.1h.9M30.1 418.3h.9M30.4 421.7h.9M9.1 425.8h.9M13.9 416.1h.9M35.3 416.2h.9M57.4 419.3h.9M56.1 428.8h.9M28.3 423.0h.9M52.4 417.5h.9M36.2 415.8h.9M35.8 417.4h.9M36.1 427.5h.9M53.7 421.0h.9M37.7 426.4h.9M31.1 412.1h.9M49.9 413.0h.9M47.5 412.8h.9M59.6 412.2h.9M46.4 431.2h.9M22.1 431.1h.9M23.9 406.8h.9M44.7 425.3h.9M32.3 401.1h.9M34.3 417.7h.9M29.9 417.8h.9M10.9 415.8h.9M59.2 431.6h.9M30.1 414.7h.9M40.3 428.0h.9M44.7 411.2h.9M37.2 421.1h.9M54.3 429.0h.9M42.0 429.1h.9M29.7 431.5h.9M29.3 423.0h.9M47.3 413.2h.9M25.6 406.8h.9M37.2 419.6h.9M30.6 423.7h.9M6.6 419.8h.9M36.2 418.0h.9M45.7 433.1h.9M29.0 413.0h.9M26.9 420.7h.9M42.9 413.6h.9M48.4 412.3h.9M46.1 423.2h.9M41.2 436.2h.9M31.5 418.8h.9M41.4 426.5h.9M17.0 422.1h.9M25.0 424.7h.9M53.4 420.4h.9M33.6 421.4h.9M42.5 421.2h.9M29.7 414.5h.9M32.6 429.1h.9M33.6 430.1h.9M38.7 419.9h.9M12.7 415.0h.9M51.8 410.3h.9M21.7 411.8h.9M27.6 424.8h.9M43.0 404.8h.9M54.6 415.6h.9M27.1 432.5h.9M33.9 410.7h.9M26.4 414.6h.9M21.4 417.5h.9M46.8 422.6h.9M16.4 440.9h.9M21.7 420.9h.9M35.4 425.7h.9M30.6 423.4h.9M63.3 420.7h.9M20.5 422.5h.9M24.2 417.2h.9M37.5 422.5h.9M31.2 426.4h.9M32.4 410.2h.9M46.8 417.3h.9M51.3 415.1h.9M42.7 422.4h.9M20.0 430.5h.9M9.6 426.8h.9M49.7 423.7h.9M44.1 416.3h.9M34.9 421.7h.9M40.7 425.3h.9M32.2 414.7h.9M27.4 423.1h.9M12.7 410.6h.9M29.5 415.9h.9M31.4 400.1h.9M30.4 418.1h.9M45.4 405.2h.9M30.9 423.6h.9M41.6 429.0h.9M49.2 412.1h.9M43.6 417.5h.9M24.2 431.5h.9M26.5 413.6h.9M29.5 413.6h.9M48.5 422.8h.9M53.8 423.1h.9M26.7 427.9h.9M26.2 416.5h.9M32.7 420.3h.9M51.1 415.5h.9M39.7 419.8h.9M18.1 411.8h.9M32.0 423.0h.9M39.3 423.6h.9M35.7 416.6h.9M40.7 412.5h.9M16.9 417.5h.9M15.7 416.1h.9M24.9 415.8h.9M34.4 414.0h.9M29.3 407.1h.9M37.0 413.4h.9M40.5 398.7h.9M24.2 421.8h.9M36.3 420.8h.9M14.8 421.7h.9M37.0 412.7h.9M45.1 419.6h.9M35.3 416.6h.9M42.4 420.7h.9M50.4 423.4h.9M26.7 418.3h.9M47.4 417.2h.9M40.2 423.9h.9M32.6 402.5h.9M36.8 421.6h.9M36.8 414.3h.9M51.4 419.0h.9M26.6 414.6h.9M39.9 411.8h.9M21.5 435.1h.9M52.7 427.9h.9M53.5 424.5h.9M12.2 429.0h.9M51.8 423.7h.9M8.5 429.4h.9M53.5 416.3h.9M36.7 425.9h.9M33.8 428.3h.9M36.1 425.2h.9M36.2 408.8h.9M21.5 443.9h.9M38.8 429.9h.9M50.4 433.0h.9M42.5 415.5h.9M35.3 405.5h.9M32.4 426.9h.9M5.6 421.5h.9M46.2 430.0h.9M22.4 415.1h.9M9.5 412.3h.9M42.3 435.7h.9M19.4 430.4h.9M40.8 416.3h.9M64.8 400.9h.9M34.1 421.7h.9M64.0 433.6h.9M65.8 421.0h.9M48.3 430.3h.9M42.0 422.7h.9M32.5 416.9h.9M18.3 434.8h.9M28.9 404.2h.9M38.6 419.7h.9M37.4 433.8h.9M33.6 418.0h.9M24.8 419.8h.9M29.0 421.6h.9M77.5 423.0h.9M23.3 434.6h.9M46.8 426.2h.9M44.7 426.2h.9M44.2 430.7h.9M48.7 430.2h.9M28.2 420.0h.9M25.1 427.3h.9M46.3 416.5h.9M43.0 439.9h.9M51.9 411.5h.9M33.7 424.8h.9M34.5 422.9h.9M51.1 422.5h.9M20.0 425.4h.9M33.7 420.9h.9M27.3 409.5h.9M18.0 417.3h.9M20.4 399.4h.9M50.7 411.2h.9M25.1 424.0h.9M24.5 425.0h.9M28.4 422.3h.9M36.4 420.0h.9M10.1 408.8h.9M34.4 430.7h.9M27.6 424.0h.9M37.2 423.7h.9M48.5 408.6h.9M38.7 418.6h.9M30.7 413.5h.9M24.3 412.2h.9M20.0 439.1h.9M58.2 420.1h.9M45.1 412.6h.9M36.9 430.9h.9M34.4 412.4h.9M31.7 412.4h.9M16.0 418.2h.9M29.5 413.8h.9M22.9 412.9h.9M38.2 430.6h.9M32.1 437.0h.9M12.9 422.1h.9M19.2 418.8h.9M36.4 424.2h.9M50.4 415.8h.9M18.1 418.6h.9M39.0 414.7h.9M47.2 432.8h.9M15.6 422.8h.9M48.9 405.4h.9M37.8 418.3h.9M15.6 430.0h.9M38.0 416.4h.9M41.1 424.9h.9M45.5 424.4h.9M40.6 411.1h.9M29.3 421.0h.9M29.8 412.0h.9M10.2 421.9h.9M35.4 415.6h.9M29.3 413.2h.9M24.8 419.3h.9M26.2 425.2h.9M33.1 421.0h.9M40.5 429.7h.9M43.2 421.7h.9M32.8 413.9h.9M30.3 425.2h.9M38.1 417.1h.9M16.8 408.3h.9M39.4 427.8h.9M40.1 409.6h.9M32.1 421.7h.9M22.5 422.6h.9M32.3 413.7h.9M18.1 426.2h.9M39.9 413.3h.9M21.2 426.8h.9M43.1 417.7h.9M56.7 417.8h.9M20.6 428.3h.9M32.4 422.6h.9M35.5 412.4h.9M18.8 418.5h.9M54.2 412.4h.9M53.5 421.7h.9M19.8 422.0h.9M42.7 413.2h.9M6.0 422.7h.9M19.9 423.3h.9M8.9 418.9h.9M24.0 408.8h.9M31.7 421.3h.9M27.4 411.0h.9M37.9 406.7h.9M42.3 423.7h.9M57.8 426.7h.9M39.8 422.0h.9M35.4 409.9h.9M54.9 424.0h.9M31.1 411.3h.9M55.2 424.0h.9M18.9 425.1h.9M60.8 419.8h.9M40.4 416.8h.9M26.4 428.1h.9M76.9 420.9h.9M33.3 426.0h.9M30.9 425.5h.9M46.3 412.3h.9M20.4 419.4h.9M46.3 422.1h.9M51.9 409.6h.9M41.7 415.3h.9M36.4 422.4h.9M21.8 418.3h.9M19.2 422.0h.9M23.4 416.3h.9M38.0 415.1h.9M50.6 415.2h.9M46.5 422.1h.9M21.0 418.3h.9M23.6 417.3h.9M31.3 433.8h.9M29.3 431.9h.9M41.1 410.1h.9M8.0 425.4h.9M49.0 423.0h.9M32.2 418.1h.9M38.5 417.7h.9M27.7 417.2h.9M50.9 415.3h.9M40.1 411.3h.9M25.3 409.6h.9M32.3 425.2h.9M39.1 416.3h.9M43.3 417.4h.9M40.0 422.1h.9M42.3 401.3h.9M17.3 425.8h.9M33.5 436.9h.9M31.8 415.8h.9M55.2 424.2h.9M60.7 423.8h.9M32.2 425.5h.9M24.3 416.6h.9M27.5 418.3h.9M45.5 416.4h.9M39.4 416.2h.9M47.0 399.2h.9M32.2 421.3h.9M20.4 427.6h.9M37.9 429.7h.9M48.0 424.8h.9M33.0 411.8h.9M32.0 416.5h.9M38.4 416.5h.9M76.3 408.0h.9M50.9 416.5h.9M31.7 427.0h.9M35.0 410.9h.9M40.6 418.5h.9M7.2 421.5h.9M20.7 414.4h.9M41.5 422.3h.9M31.1 436.3h.9M40.7 415.4h.9M38.2 419.1h.9M5.2 408.1h.9M16.2 435.6h.9M32.5 417.9h.9M27.4 427.4h.9M35.4 432.8h.9M45.7 432.4h.9M33.4 422.8h.9M29.2 418.7h.9M11.6 415.6h.9M22.2 415.1h.9M51.4 422.0h.9M51.5 426.5h.9M47.4 427.6h.9M26.8 426.0h.9M30.7 416.0h.9M51.1 436.3h.9M21.8 433.1h.9M46.2 413.6h.9M38.7 422.8h.9M40.1 417.3h.9M17.7 420.2h.9M46.6 425.9h.9M43.9 428.3h.9M21.6 419.7h.9M39.6 427.5h.9M37.1 423.9h.9M36.8 435.8h.9M5.5 419.8h.9M68.4 421.8h.9M10.3 421.0h.9M15.7 414.9h.9M38.0 432.9h.9M41.2 425.0h.9M48.7 421.5h.9M23.4 419.3h.9M39.5 417.9h.9M26.0 417.3h.9M14.8 412.3h.9M33.8 417.3h.9M35.5 430.5h.9M39.0 419.8h.9M19.2 411.9h.9M40.1 413.4h.9M40.8 411.9h.9M36.8 419.5h.9M48.4 417.1h.9M30.0 421.8h.9M35.7 432.7h.9M31.5 416.0h.9M30.7 423.6h.9M38.2 425.2h.9M16.4 438.6h.9M59.8 419.8h.9M18.7 421.2h.9M40.6 403.2h.9M35.2 408.9h.9M41.2 430.4h.9M48.9 408.7h.9M53.6 426.8h.9M30.1 423.8h.9M55.4 417.5h.9M34.8 415.8h.9M50.6 403.8h.9M54.1 412.7h.9M47.5 407.8h.9M22.4 415.5h.9M46.2 407.8h.9M43.1 415.2h.9M51.7 417.7h.9M41.6 418.7h.9M59.2 417.3h.9M34.7 434.9h.9M36.0 425.1h.9M25.1 421.5h.9M26.3 408.7h.9M15.9 428.6h.9M40.7 408.6h.9M59.4 414.8h.9M30.0 421.9h.9M19.7 407.9h.9M25.0 428.9h.9M47.8 408.1h.9M51.2 420.3h.9M41.7 420.4h.9M40.6 412.5h.9M22.8 414.7h.9M30.0 424.6h.9M18.6 432.0h.9M26.5 415.6h.9M44.5 423.3h.9M30.4 412.0h.9M21.5 408.0h.9M50.4 428.1h.9M60.2 423.7h.9M39.5 425.7h.9M47.8 418.1h.9M39.7 436.2h.9M12.2 409.4h.9M22.0 425.7h.9M51.0 417.5h.9M44.1 419.6h.9M39.0 415.9h.9M34.6 420.0h.9M50.2 436.8h.9M10.5 424.0h.9M34.9 427.3h.9M49.3 425.9h.9M45.9 412.9h.9M12.0 432.5h.9M51.3 412.8h.9M52.4 425.0h.9M21.7 428.8h.9M25.8 414.4h.9M14.2 418.4h.9M48.7 415.0h.9M9.9 436.1h.9M59.9 425.2h.9M27.8 410.9h.9M12.9 424.2h.9M52.5 412.0h.9M35.0 417.9h.9M31.5 423.8h.9M63.2 415.2h.9M46.5 428.2h.9M31.2 418.9h.9M16.9 428.1h.9M27.8 415.1h.9M35.9 413.5h.9M20.9 417.8h.9M55.1 418.5h.9M42.1 409.0h.9M8.7 433.7h.9M29.6 408.4h.9M33.6 424.6h.9M11.7 413.4h.9M38.5 413.1h.9M45.8 427.2h.9M41.0 416.8h.9M34.4 415.2h.9M33.2 422.4h.9M30.9 427.3h.9M70.1 415.9h.9M39.6 426.2h.9M43.7 418.2h.9M28.5 427.6h.9M43.4 423.8h.9M24.1 424.8h.9M45.7 418.6h.9M43.7 436.4h.9M9.6 424.6h.9M19.2 409.7h.9M31.8 424.1h.9M35.7 411.2h.9M15.5 415.8h.9M35.2 413.7h.9M14.7 433.2h.9M23.6 418.8h.9M27.6 415.6h.9M35.5 417.8h.9M43.4 411.1h.9M14.9 434.7h.9M34.0 425.8h.9M51.0 424.2h.9M35.5 408.3h.9M13.3 427.4h.9M44.2 424.3h.9M12.5 403.9h.9M20.7 411.1h.9M37.2 412.3h.9M56.5 415.3h.9M27.4 426.5h.9M39.5 413.2h.9M46.1 434.5h.9M18.3 418.1h.9M20.4 405.3h.9M43.5 425.3h.9M48.2 423.2h.9M7.6 419.8h.9M25.9 411.1h.9M20.0 425.8h.9M31.0 434.9h.9M41.4 405.5h.9M47.2 429.5h.9M35.4 410.8h.9M59.1 410.0h.9M33.9 405.5h.9M17.9 407.1h.9M49.8 428.9h.9M29.5 409.7h.9M34.2 422.9h.9M14.2 411.2h.9M33.6 425.3h.9M36.0 423.4h.9M18.0 401.1h.9M39.3 413.0h.9M33.3 417.1h.9M41.6 414.1h.9M54.7 420.2h.9M42.2 424.8h.9M49.2 423.1h.9M11.1 415.2h.9M60.4 423.6h.9M42.7 423.6h.9M26.2 414.8h.9M26.2 428.8h.9M40.0 433.6h.9M41.8 434.4h.9M41.3 411.0h.9M58.8 422.6h.9M51.3 421.6h.9M30.5 421.3h.9M19.6 410.9h.9M22.8 416.0h.9M16.4 419.2h.9M39.2 435.5h.9M60.3 419.6h.9M47.1 418.3h.9M40.4 419.7h.9M27.6 420.6h.9M14.7 423.4h.9M31.0 411.7h.9M30.1 424.2h.9M25.6 423.6h.9M42.8 432.0h.9M20.0 419.1h.9M42.0 431.5h.9M38.6 425.8h.9M14.8 415.5h.9M57.9 417.8h.9M64.8 414.4h.9M31.2 407.7h.9M43.8 422.0h.9M62.8 421.3h.9M31.5 409.2h.9M33.9 427.3h.9M45.2 429.4h.9M46.9 419.6h.9M43.4 421.3h.9M16.6 433.2h.9M40.2 411.9h.9M40.3 422.2h.9M48.8 431.1h.9M56.2 412.7h.9M9.3 422.2h.9M39.7 422.7h.9M19.6 416.4h.9M37.7 425.7h.9M65.4 422.3h.9M26.7 401.8h.9M49.9 419.0h.9M33.5 412.4h.9M45.2 406.1h.9M36.5 420.9h.9M39.2 430.1h.9M33.6 420.7h.9M46.9 408.0h.9M30.9 420.5h.9M48.3 413.8h.9M46.2 423.0h.9M14.3 408.6h.9M15.1 421.1h.9M37.9 425.6h.9M46.4 415.7h.9M49.9 426.3h.9M41.6 423.7h.9M17.1 422.8h.9M20.6 410.8h.9M30.1 421.1h.9M34.3 417.4h.9M21.1 421.4h.9M24.7 409.1h.9M36.3 431.3h.9M29.4 411.8h.9M54.3 433.3h.9M30.9 418.4h.9M37.9 442.9h.9M36.9 427.7h.9M41.2 405.9h.9M19.6 410.4h.9M41.0 420.8h.9M59.9 417.9h.9M39.3 420.6h.9M87.9 439.0h.9M89.8 432.4h.9M103.4 416.3h.9M95.2 418.0h.9M87.5 422.2h.9M86.3 417.4h.9M106.9 418.9h.9M95.5 434.1h.9M94.4 429.0h.9M104.7 429.5h.9M109.1 409.9h.9M112.4 421.2h.9M62.5 416.0h.9M67.2 420.8h.9M65.9 413.2h.9M90.0 422.2h.9M75.3 419.2h.9M84.7 421.6h.9M85.9 419.3h.9M97.8 408.5h.9M79.3 422.0h.9M80.6 416.7h.9M80.1 422.6h.9M102.8 419.6h.9M82.4 423.8h.9M82.7 405.9h.9M89.6 418.1h.9M78.3 425.9h.9M86.6 416.6h.9M56.6 407.6h.9M86.2 420.1h.9M91.9 422.7h.9M79.5 411.1h.9M71.2 419.9h.9M70.5 426.9h.9M68.1 407.0h.9M83.4 407.2h.9M108.0 413.3h.9M85.3 419.1h.9M74.9 407.2h.9M60.9 427.7h.9M99.8 437.9h.9M66.3 425.4h.9M85.8 427.6h.9M79.1 426.6h.9M98.1 425.7h.9M105.5 419.6h.9M106.8 415.5h.9M108.5 399.6h.9M86.2 414.8h.9M86.0 429.0h.9M95.7 421.7h.9M109.0 409.5h.9M75.0 432.8h.9M90.4 404.8h.9M90.6 411.8h.9M105.9 429.9h.9M78.6 431.1h.9M74.7 428.2h.9M93.8 420.0h.9M66.8 418.8h.9M55.1 416.6h.9M61.0 430.5h.9M73.0 402.0h.9M93.9 423.9h.9M79.2 437.5h.9M96.4 421.5h.9M77.3 397.9h.9M92.5 428.5h.9M78.0 410.0h.9M85.4 408.0h.9M86.1 427.0h.9M106.4 423.1h.9M88.7 426.8h.9M104.9 418.5h.9M69.4 414.8h.9M69.0 414.1h.9M84.4 423.7h.9M88.1 421.5h.9M81.2 424.3h.9M98.0 426.9h.9M106.2 418.7h.9M82.6 434.2h.9M88.7 424.2h.9M81.5 428.6h.9M80.6 413.1h.9M85.2 417.6h.9M97.3 418.1h.9M87.7 419.3h.9M90.6 416.1h.9M100.9 409.9h.9M80.8 415.5h.9M94.7 421.3h.9M92.5 418.4h.9M76.3 412.3h.9M81.5 416.8h.9M89.8 423.8h.9M99.2 420.2h.9M75.9 412.7h.9M86.8 423.8h.9M112.3 422.4h.9M109.7 435.6h.9M71.8 430.4h.9M101.3 431.5h.9M85.9 428.4h.9M79.5 420.5h.9M86.3 434.9h.9M83.1 428.4h.9M86.9 415.5h.9M89.3 426.1h.9M76.4 425.9h.9M76.4 414.2h.9M89.0 419.2h.9M72.7 408.3h.9M86.3 422.9h.9M79.8 422.5h.9M65.4 424.1h.9M91.6 423.2h.9M77.7 421.6h.9M87.8 429.3h.9M89.7 423.0h.9M76.2 427.7h.9M101.8 417.2h.9M94.6 423.4h.9M85.4 411.0h.9M109.7 406.5h.9M90.1 418.1h.9M101.4 417.7h.9M86.5 425.8h.9M92.2 416.9h.9M95.2 424.1h.9M99.3 417.0h.9M85.4 418.0h.9M74.7 423.0h.9M91.5 432.1h.9M81.6 424.0h.9M101.4 420.1h.9M86.9 422.0h.9M76.7 413.3h.9M101.0 422.3h.9M85.0 411.3h.9M87.6 430.1h.9M70.5 414.1h.9M100.9 432.1h.9M106.9 416.7h.9M94.1 415.2h.9M93.0 418.2h.9M88.6 431.4h.9M90.5 419.1h.9M86.8 423.1h.9M79.1 422.6h.9M94.1 433.1h.9M58.3 411.8h.9M69.4 427.8h.9M118.8 422.5h.9M87.6 429.8h.9M53.2 419.6h.9M44.2 422.2h.9M79.2 417.2h.9M90.6 416.5h.9M100.9 421.0h.9M91.1 440.7h.9M80.0 428.2h.9M74.9 430.7h.9M98.9 422.1h.9M99.3 433.5h.9M104.5 421.0h.9M85.3 429.6h.9M66.3 416.3h.9M92.5 425.4h.9M110.9 434.6h.9M90.3 424.4h.9M68.4 419.6h.9M89.5 419.3h.9M86.8 425.7h.9M73.3 416.6h.9M62.2 429.8h.9M71.9 407.8h.9M96.3 419.3h.9M98.9 418.2h.9M114.4 426.5h.9M88.0 421.9h.9M83.3 427.2h.9M112.7 417.7h.9M71.5 425.6h.9M100.2 409.5h.9M76.8 413.3h.9M93.5 424.9h.9M76.2 412.3h.9M95.1 405.2h.9M94.6 419.8h.9M111.6 428.7h.9M78.3 418.9h.9M82.3 415.4h.9M87.1 428.4h.9M65.9 419.2h.9M105.9 426.7h.9M75.2 414.8h.9M74.6 408.7h.9M101.3 421.5h.9M76.7 410.0h.9M80.9 417.1h.9M108.9 417.5h.9M87.5 429.2h.9M94.9 419.6h.9M57.0 431.8h.9M93.9 417.7h.9M84.8 413.7h.9M74.1 409.6h.9M92.7 425.0h.9M88.3 427.0h.9M93.1 421.9h.9M74.3 425.5h.9M101.8 425.8h.9M102.6 417.4h.9M73.0 430.6h.9M78.3 422.9h.9M83.5 421.2h.9M82.4 416.9h.9M62.4 435.6h.9M88.7 406.3h.9M74.0 412.4h.9M76.2 401.5h.9M93.6 433.5h.9M82.7 426.7h.9M94.0 411.5h.9M102.1 408.1h.9M78.4 418.3h.9M102.6 421.9h.9M84.4 414.9h.9M87.2 421.3h.9M95.7 431.7h.9M95.8 421.1h.9M84.0 433.2h.9M88.7 420.9h.9M109.8 433.0h.9M93.5 420.2h.9M77.6 429.2h.9M80.0 428.3h.9M75.7 421.8h.9M91.3 422.1h.9M89.1 423.9h.9M71.2 412.5h.9M84.1 434.8h.9M84.4 413.9h.9M77.3 421.3h.9M101.6 416.7h.9M93.4 422.4h.9M81.3 413.8h.9M84.0 415.5h.9M93.1 407.6h.9M100.9 426.8h.9M93.6 432.4h.9M94.0 408.0h.9M86.7 424.4h.9M77.0 412.4h.9M91.7 424.9h.9M80.4 419.2h.9M79.3 416.7h.9M85.2 429.2h.9M64.8 418.4h.9M107.3 423.4h.9M88.0 427.4h.9M72.8 411.8h.9M64.1 409.9h.9M89.3 427.5h.9M80.5 415.8h.9M91.3 425.7h.9M89.4 406.5h.9M78.8 401.7h.9M89.2 414.5h.9M77.4 432.4h.9M103.4 424.7h.9M89.6 422.3h.9M78.3 420.6h.9M111.1 414.3h.9M77.3 422.2h.9M97.7 427.3h.9M73.3 420.0h.9M82.5 411.6h.9M87.0 417.4h.9M98.1 424.3h.9M75.8 421.6h.9M81.3 416.2h.9M79.6 429.1h.9M80.6 408.0h.9M75.8 427.1h.9M114.3 413.0h.9M81.3 418.5h.9M67.5 424.0h.9M85.3 423.1h.9M115.4 419.0h.9M96.4 427.3h.9M77.7 416.5h.9M106.4 426.4h.9M87.9 412.7h.9M97.6 425.0h.9M114.9 432.2h.9M96.6 423.0h.9M86.8 416.8h.9M90.1 422.9h.9M94.6 429.2h.9M90.1 416.9h.9M96.6 432.8h.9M75.0 424.2h.9M93.2 425.1h.9M92.6 420.3h.9M84.7 433.8h.9M108.7 410.4h.9M52.7 424.3h.9M77.2 417.1h.9M65.1 423.7h.9M85.3 416.9h.9M97.8 439.4h.9M105.4 429.9h.9M80.6 426.0h.9M85.5 429.8h.9M93.6 420.7h.9M93.3 415.6h.9M96.4 432.4h.9M81.3 425.2h.9M64.2 428.1h.9M97.5 413.3h.9M108.9 421.9h.9M63.3 410.6h.9M97.5 418.9h.9M100.5 409.3h.9M84.7 428.4h.9M77.1 426.2h.9M81.3 423.6h.9M90.2 437.9h.9M69.8 426.9h.9M103.2 412.5h.9M87.1 438.5h.9M99.8 398.5h.9M82.9 408.0h.9M90.0 415.5h.9M78.6 414.7h.9M89.9 417.5h.9M74.1 419.3h.9M91.3 414.5h.9M100.6 408.4h.9M91.3 418.1h.9M106.6 416.1h.9M77.3 410.8h.9M112.0 425.7h.9M71.8 418.5h.9M73.4 432.5h.9M91.5 405.6h.9M88.8 427.9h.9M86.0 424.6h.9M84.6 422.6h.9M88.8 415.6h.9M90.6 422.3h.9M85.5 415.8h.9M72.7 422.9h.9M96.8 402.7h.9M79.0 431.3h.9M98.0 415.6h.9M103.7 413.5h.9M75.6 435.7h.9M80.3 419.4h.9M64.4 413.3h.9M70.6 420.0h.9M61.9 429.1h.9M81.3 416.4h.9M77.7 426.6h.9M106.1 417.9h.9M107.2 433.2h.9M103.6 423.3h.9M66.4 426.1h.9M80.6 422.5h.9M61.3 418.9h.9M89.1 413.9h.9M89.9 433.7h.9M89.0 415.8h.9M117.3 404.7h.9M73.9 424.1h.9M78.2 403.6h.9M89.4 427.3h.9M75.6 432.1h.9M92.6 430.1h.9M65.9 421.0h.9M107.0 436.3h.9M103.3 421.0h.9M88.4 416.2h.9M100.4 415.7h.9M87.6 405.3h.9M66.2 434.5h.9M86.8 422.6h.9M57.1 420.7h.9M113.3 409.6h.9M54.7 419.8h.9M79.0 419.4h.9M69.5 410.7h.9M69.7 425.9h.9M85.4 427.3h.9M71.8 425.5h.9M80.2 421.7h.9M98.3 421.3h.9M81.4 408.3h.9M86.8 427.0h.9M77.7 420.5h.9M62.7 410.8h.9M91.3 430.9h.9M81.9 408.2h.9M81.0 409.1h.9M82.4 435.7h.9M90.0 419.8h.9M99.7 418.1h.9M90.4 422.5h.9M91.9 409.8h.9M95.4 427.7h.9M55.8 400.3h.9M74.1 432.4h.9M86.3 426.2h.9M93.3 427.8h.9M77.5 416.5h.9M91.0 425.7h.9M93.6 423.6h.9M79.6 429.5h.9M92.3 429.2h.9M52.3 428.7h.9M53.6 422.6h.9M77.2 421.9h.9M79.7 418.6h.9M88.6 423.7h.9M75.4 401.6h.9M75.6 425.2h.9M74.8 424.3h.9M81.1 413.8h.9M101.5 433.7h.9M84.6 420.6h.9M98.8 410.8h.9M74.4 429.7h.9M98.0 417.2h.9M75.6 423.7h.9M67.2 417.2h.9M82.9 402.0h.9M93.9 426.9h.9M100.2 409.9h.9M68.9 414.7h.9M68.6 436.8h.9M73.0 418.6h.9M88.8 424.5h.9M105.4 412.6h.9M97.8 422.2h.9M70.3 422.2h.9M67.3 433.5h.9M76.2 428.8h.9M103.4 416.2h.9M74.0 422.0h.9M72.0 428.0h.9M88.4 415.1h.9M76.8 426.6h.9M66.6 434.1h.9M75.5 419.5h.9M73.6 433.6h.9M97.0 431.1h.9M94.8 421.7h.9M108.7 426.2h.9M91.9 425.5h.9M95.9 423.2h.9M83.8 408.6h.9M113.7 410.9h.9M57.1 415.5h.9M112.0 430.5h.9M77.9 423.1h.9M85.7 405.6h.9M81.5 423.3h.9M101.8 411.6h.9M55.6 408.8h.9M90.5 421.6h.9M88.0 422.2h.9M81.1 410.4h.9M92.1 424.0h.9M93.8 430.7h.9M69.3 402.8h.9M62.0 437.7h.9M73.7 424.1h.9M85.8 426.7h.9M83.7 416.3h.9M89.3 425.1h.9M72.9 431.3h.9M101.5 424.5h.9M84.5 419.2h.9M63.8 426.1h.9M72.8 417.1h.9M99.4 413.8h.9M79.0 427.7h.9M111.1 415.6h.9M100.9 415.9h.9M91.2 424.8h.9M70.6 429.0h.9M110.3 421.4h.9M89.6 411.9h.9M110.1 421.5h.9M68.8 427.0h.9M66.3 415.6h.9M57.2 431.7h.9M115.8 416.0h.9M77.2 416.5h.9M78.4 425.3h.9M105.7 413.1h.9M91.9 406.9h.9M106.6 420.3h.9M76.5 432.9h.9M84.6 431.7h.9M100.5 433.9h.9M75.2 421.4h.9M91.0 419.5h.9M106.6 415.4h.9M99.5 431.6h.9M59.6 413.4h.9M73.8 416.7h.9M91.3 419.6h.9M87.1 417.4h.9M84.9 424.8h.9M96.1 414.9h.9M84.5 415.1h.9M83.6 409.8h.9M98.9 426.2h.9M84.3 415.7h.9M79.8 415.8h.9M65.2 433.7h.9M70.2 425.5h.9M94.2 408.7h.9M60.1 425.2h.9M59.1 432.1h.9M79.3 421.7h.9M86.0 416.6h.9M84.1 418.7h.9M102.8 420.3h.9M85.6 416.9h.9M77.4 415.3h.9M86.1 435.3h.9M101.1 422.8h.9M108.5 428.9h.9M88.8 419.7h.9M71.2 422.9h.9M81.7 408.6h.9M68.7 436.1h.9M88.9 424.9h.9M88.7 417.4h.9M92.2 429.5h.9M81.8 425.0h.9M99.8 417.2h.9M88.3 415.2h.9M94.1 418.1h.9M101.5 415.0h.9M108.8 418.6h.9M74.7 414.0h.9M94.9 414.3h.9M110.4 431.0h.9M93.0 409.9h.9M85.7 415.3h.9M61.5 424.3h.9M115.7 416.8h.9M96.9 431.0h.9M73.0 418.3h.9M89.6 424.7h.9M70.5 422.7h.9M84.6 428.4h.9M64.4 416.6h.9M79.2 418.5h.9M95.8 416.1h.9M123.0 415.5h.9M97.3 429.0h.9M99.0 419.4h.9M74.8 419.0h.9M95.0 421.9h.9M93.9 425.5h.9M74.1 413.7h.9M105.5 417.2h.9M64.6 435.5h.9M74.7 413.7h.9M99.1 412.2h.9M74.2 429.2h.9M74.9 440.6h.9M87.3 441.9h.9M87.7 421.4h.9M77.3 419.3h.9M79.2 420.8h.9M96.4 411.1h.9M73.6 404.7h.9M106.3 420.4h.9M85.8 420.5h.9M99.6 423.5h.9M97.5 419.7h.9M84.4 420.6h.9M60.9 429.5h.9M64.7 413.2h.9M95.1 421.4h.9M97.0 434.3h.9M111.1 431.8h.9M83.0 437.0h.9M74.1 420.3h.9M99.5 419.3h.9M84.4 418.2h.9M104.4 401.8h.9M103.2 429.3h.9M85.0 425.4h.9M72.9 429.7h.9M127.3 413.8h.9M104.8 420.6h.9M81.4 417.2h.9M83.4 411.2h.9M67.7 434.0h.9M85.8 425.3h.9M90.2 424.7h.9M65.4 413.6h.9M94.5 428.8h.9M70.5 416.5h.9M71.6 426.1h.9M90.6 421.3h.9M77.2 423.7h.9M86.4 415.2h.9M90.5 415.8h.9M98.9 425.9h.9M76.7 425.6h.9M86.9 415.5h.9M73.7 408.0h.9M70.7 423.7h.9M102.3 416.1h.9M88.2 423.7h.9M96.5 424.5h.9M102.6 427.0h.9M75.7 424.1h.9M54.4 419.6h.9M86.3 425.5h.9M81.9 427.5h.9M103.8 414.5h.9M78.7 423.0h.9M92.6 422.1h.9M97.2 411.8h.9M96.5 430.1h.9M101.0 424.3h.9M82.8 424.1h.9M85.0 408.6h.9M77.8 420.7h.9M79.0 413.7h.9M82.9 418.1h.9M86.9 420.6h.9M88.3 428.7h.9M87.8 424.2h.9M69.5 398.0h.9M80.6 426.3h.9M81.4 416.1h.9M69.3 428.0h.9M78.9 422.9h.9M101.3 425.2h.9M116.3 420.0h.9M98.9 426.4h.9M77.2 421.4h.9M78.4 413.0h.9M90.0 415.0h.9M108.7 415.2h.9M78.7 421.7h.9M79.0 421.4h.9M77.8 409.9h.9M53.4 410.9h.9M106.5 424.5h.9M88.1 417.4h.9M84.0 423.3h.9M67.2 414.8h.9M74.0 430.8h.9M71.7 430.1h.9M79.7 442.3h.9M84.9 421.3h.9M104.2 427.8h.9M98.7 412.7h.9M101.3 434.1h.9M84.6 417.2h.9M71.3 428.9h.9M90.0 421.1h.9M69.3 433.6h.9M97.8 420.8h.9M105.9 413.6h.9M97.9 413.2h.9M105.0 418.9h.9M102.5 417.8h.9M91.4 429.9h.9M73.8 421.8h.9M74.7 427.6h.9M77.8 418.1h.9M83.3 430.1h.9M71.9 420.8h.9M81.6 416.7h.9M75.4 419.8h.9M88.6 408.9h.9M89.2 411.8h.9M86.2 438.8h.9M72.9 420.5h.9M82.6 428.7h.9M79.6 407.1h.9M64.3 422.4h.9M89.4 429.3h.9M78.8 426.2h.9M71.6 431.1h.9M85.0 415.7h.9M88.4 434.6h.9M74.6 411.3h.9M72.3 412.0h.9M85.3 423.7h.9M83.8 422.5h.9M102.0 418.7h.9M69.1 403.2h.9M89.3 415.7h.9M82.6 424.2h.9M92.2 408.8h.9M73.1 421.6h.9M84.1 429.9h.9M79.2 404.9h.9M101.8 408.2h.9M72.9 424.0h.9M71.7 440.4h.9M89.2 425.2h.9M80.1 438.3h.9M93.3 415.4h.9M102.9 407.8h.9M78.1 423.3h.9M87.9 413.5h.9M107.3 432.5h.9M73.4 423.9h.9M77.4 417.6h.9M99.3 422.0h.9M84.5 421.8h.9M70.2 430.5h.9M75.9 431.2h.9M79.8 417.4h.9M106.1 422.5h.9M77.4 416.8h.9M94.2 435.6h.9M94.3 417.9h.9M70.9 415.8h.9M84.4 422.9h.9M77.2 431.0h.9M73.1 415.4h.9M92.7 424.8h.9M80.7 428.5h.9M67.0 433.7h.9M115.5 436.2h.9M87.6 436.3h.9M86.7 431.4h.9M83.3 422.5h.9M93.1 407.4h.9M83.2 434.4h.9M46.6 424.0h.9M98.4 423.6h.9M88.6 431.8h.9M90.5 406.2h.9M73.3 418.7h.9M87.9 417.5h.9M84.6 434.0h.9M46.4 430.0h.9M98.6 425.7h.9M86.2 421.5h.9M90.9 422.9h.9M76.2 427.1h.9M74.9 420.7h.9M81.2 412.0h.9M94.2 420.5h.9M70.3 420.4h.9M67.4 432.2h.9M93.0 436.5h.9M78.4 426.5h.9M73.0 414.4h.9M84.8 424.2h.9M98.5 418.9h.9M100.9 428.5h.9M74.2 419.6h.9M73.7 434.3h.9M78.6 427.9h.9M98.3 419.0h.9M79.4 423.7h.9M75.6 411.2h.9M73.0 423.6h.9M88.6 434.7h.9M61.4 424.9h.9M70.5 430.0h.9M95.4 422.0h.9M105.8 418.1h.9M78.9 412.8h.9M77.2 421.9h.9M95.0 430.9h.9M82.4 415.3h.9M81.5 417.7h.9M79.7 417.9h.9M74.3 420.6h.9M79.1 419.7h.9M67.4 422.1h.9M93.7 426.0h.9M78.6 412.2h.9M68.5 411.9h.9M77.4 418.6h.9M62.2 426.2h.9M65.4 415.7h.9M76.3 427.4h.9M110.6 418.3h.9M82.3 418.0h.9M83.3 419.7h.9M119.0 412.6h.9M84.5 414.9h.9M90.8 417.0h.9M93.7 412.7h.9M114.2 422.6h.9M62.4 426.4h.9M79.7 412.1h.9M91.9 417.0h.9M95.9 416.8h.9M98.1 422.2h.9M90.8 422.2h.9M81.1 418.2h.9M92.0 426.5h.9M80.5 438.3h.9M108.6 412.2h.9M100.5 420.5h.9M89.1 414.9h.9M108.1 414.7h.9M84.9 415.4h.9M111.8 430.7h.9M68.4 417.5h.9M90.9 417.7h.9M81.3 412.7h.9M89.3 412.6h.9M97.1 439.4h.9M81.7 433.6h.9M91.0 415.9h.9M81.4 413.6h.9M87.5 426.4h.9M98.4 418.9h.9M70.1 420.4h.9M108.3 423.2h.9M85.2 405.1h.9M80.2 425.2h.9M73.4 431.4h.9M78.5 414.3h.9M78.3 420.3h.9M99.3 416.7h.9M62.3 420.4h.9M93.0 432.8h.9M71.1 432.4h.9M95.0 424.5h.9M75.8 414.3h.9M73.3 428.2h.9M88.9 429.2h.9M110.2 421.2h.9M85.4 435.7h.9M68.7 417.6h.9M81.1 418.1h.9M87.9 414.6h.9M101.4 410.6h.9M75.2 408.1h.9M67.4 425.5h.9M94.4 419.5h.9M97.2 425.8h.9M78.3 420.7h.9M90.9 436.4h.9M80.2 423.9h.9M93.2 430.3h.9M91.6 429.2h.9M71.9 419.0h.9M60.3 420.7h.9M117.0 422.9h.9M87.2 423.1h.9M87.9 410.9h.9M76.8 419.7h.9M88.2 414.5h.9M84.6 415.4h.9M68.5 416.0h.9M75.3 427.4h.9M103.8 425.5h.9M83.2 416.8h.9M65.2 417.0h.9M106.8 429.8h.9M89.0 419.2h.9M86.1 424.3h.9M85.9 424.3h.9M75.8 421.4h.9M81.3 429.3h.9M69.5 430.9h.9M84.9 417.2h.9M86.3 422.0h.9M82.9 424.3h.9M78.3 408.2h.9M95.2 420.9h.9M108.1 424.0h.9M59.5 430.5h.9M76.9 425.2h.9M115.5 429.4h.9M71.5 420.4h.9M64.7 426.1h.9M93.5 413.3h.9M92.0 428.2h.9M96.7 416.0h.9M76.8 412.5h.9M68.9 423.5h.9M86.5 431.0h.9M89.6 418.6h.9M67.1 432.8h.9M88.2 420.8h.9M72.7 413.1h.9M94.4 413.7h.9M93.8 425.8h.9M80.9 408.8h.9M91.5 431.7h.9M75.1 411.5h.9M100.4 422.2h.9M77.7 430.4h.9M82.3 424.5h.9M80.7 415.4h.9M88.9 414.6h.9M62.5 417.0h.9M102.4 429.4h.9M114.8 428.6h.9M107.4 423.0h.9M80.2 424.6h.9M73.4 426.6h.9M80.1 423.0h.9M74.7 420.1h.9M99.0 419.4h.9M77.1 423.2h.9M97.7 419.7h.9M70.5 409.3h.9M68.3 429.1h.9M84.8 424.7h.9M100.2 423.2h.9M92.4 417.3h.9M64.7 425.8h.9M84.7 425.4h.9M71.9 420.0h.9M112.7 414.7h.9M87.3 431.0h.9M82.9 422.0h.9M57.8 426.9h.9M80.2 430.8h.9M84.8 418.3h.9M91.8 419.3h.9M79.2 432.7h.9M99.0 421.9h.9M96.7 427.3h.9M93.7 421.4h.9M87.0 424.2h.9M93.5 423.8h.9M78.7 420.5h.9M92.1 413.7h.9M85.9 426.8h.9M88.2 419.0h.9M85.7 417.5h.9M99.0 418.3h.9M64.0 412.0h.9M90.0 422.7h.9M79.8 411.3h.9M84.0 414.8h.9M77.3 421.1h.9M75.9 423.4h.9M76.2 417.6h.9M83.0 432.1h.9M106.8 428.2h.9M76.3 421.1h.9M98.1 427.1h.9M64.5 420.7h.9M76.2 426.7h.9M94.4 417.1h.9M114.3 419.0h.9M118.3 419.9h.9M84.9 435.3h.9M79.0 417.6h.9M105.5 420.8h.9M92.3 411.7h.9M109.6 428.5h.9M90.7 426.4h.9M79.4 417.6h.9M65.2 423.9h.9M102.3 427.5h.9M98.2 426.4h.9M73.8 411.4h.9M94.5 422.4h.9M99.0 419.1h.9M74.4 424.4h.9M78.6 408.9h.9M78.0 414.6h.9M71.3 417.0h.9M98.5 438.6h.9M108.8 418.0h.9M101.1 420.6h.9M91.3 416.1h.9M85.0 408.7h.9M109.7 415.4h.9M93.7 416.8h.9M89.6 412.4h.9M81.0 427.9h.9M93.9 406.7h.9M97.3 411.4h.9M89.8 425.0h.9M77.5 418.8h.9M82.8 424.1h.9M98.1 431.2h.9M90.3 435.9h.9M73.5 434.3h.9M82.5 426.8h.9M84.3 421.7h.9M73.9 424.0h.9M112.8 422.2h.9M85.7 421.2h.9M95.4 419.6h.9M85.9 422.7h.9M103.2 428.2h.9M72.1 416.4h.9M86.3 427.4h.9M98.8 419.6h.9M114.1 419.9h.9M104.6 431.7h.9M107.1 422.6h.9M93.6 409.8h.9M62.5 416.6h.9M95.5 429.0h.9M84.6 428.8h.9M93.6 432.4h.9M65.0 415.0h.9M73.4 413.4h.9M107.8 414.3h.9M75.0 418.2h.9M97.7 417.7h.9M95.7 425.2h.9M77.5 403.6h.9M73.9 411.9h.9M107.6 415.8h.9M71.8 423.9h.9M86.7 414.2h.9M100.5 427.9h.9M89.7 415.5h.9M74.5 405.9h.9M91.1 424.0h.9M73.8 421.3h.9M63.4 425.6h.9M80.4 417.5h.9M94.2 420.1h.9M99.2 424.9h.9M101.4 422.0h.9M57.5 431.2h.9M63.5 428.8h.9M89.3 410.8h.9M86.9 427.6h.9M72.5 421.4h.9M76.2 413.7h.9M77.8 430.6h.9M95.1 420.9h.9M84.9 422.0h.9M89.8 422.5h.9M63.3 427.9h.9M74.7 401.8h.9M95.3 412.2h.9M84.1 420.4h.9M78.2 425.1h.9M82.4 419.0h.9M73.4 419.0h.9M72.3 421.4h.9M103.5 428.6h.9M91.7 411.0h.9M99.6 428.0h.9M113.3 404.4h.9M86.2 418.6h.9M100.4 413.0h.9M81.0 438.3h.9M99.2 406.3h.9M86.3 431.2h.9M77.8 425.5h.9M87.3 410.2h.9M77.7 429.5h.9M101.7 416.6h.9M100.9 415.8h.9M89.3 420.9h.9M69.4 423.5h.9M80.8 400.7h.9M75.0 414.8h.9M74.9 413.8h.9M76.9 402.8h.9M97.8 421.6h.9M89.4 419.1h.9M86.8 419.1h.9M71.5 409.8h.9M87.0 428.6h.9M89.1 433.1h.9M67.9 419.1h.9M77.8 430.2h.9M108.5 417.2h.9M95.7 419.2h.9M72.7 420.2h.9M72.2 432.6h.9M93.8 429.9h.9M90.8 402.9h.9M96.7 421.7h.9M54.3 421.8h.9M99.4 433.8h.9M72.4 426.9h.9M90.4 419.8h.9M82.2 425.0h.9M93.7 425.9h.9M80.6 411.2h.9M103.5 430.7h.9M78.5 420.8h.9M96.7 407.9h.9M92.6 439.1h.9M89.6 415.8h.9M113.1 421.1h.9M88.8 417.9h.9M88.4 407.6h.9M69.0 410.0h.9M98.0 420.3h.9M101.3 405.8h.9M78.0 431.9h.9M75.5 407.1h.9M76.1 418.4h.9M85.8 430.8h.9M103.6 432.6h.9M93.7 417.3h.9M79.4 410.0h.9M102.9 430.4h.9M87.2 414.4h.9M95.0 424.7h.9M88.0 412.3h.9M89.2 416.8h.9M95.8 425.5h.9M91.8 417.8h.9M106.2 426.8h.9M102.8 427.3h.9M94.8 423.9h.9M71.8 407.4h.9M73.6 425.6h.9M98.1 422.4h.9M87.2 434.7h.9M80.7 407.7h.9M65.5 418.6h.9M95.3 426.5h.9M83.1 427.1h.9M85.4 415.6h.9M81.0 426.7h.9M98.6 412.6h.9M72.9 421.9h.9M114.2 412.3h.9M69.4 424.1h.9M92.7 416.4h.9M85.7 424.6h.9M62.9 420.8h.9M94.0 427.9h.9M101.4 420.5h.9M66.9 431.0h.9M96.2 416.2h.9M99.7 428.8h.9M84.2 403.4h.9M79.8 415.4h.9M74.9 420.4h.9M71.7 423.9h.9M111.0 412.1h.9M99.8 417.0h.9M93.2 420.1h.9M103.0 415.7h.9M95.7 415.2h.9M89.0 420.9h.9M100.4 409.2h.9M68.2 431.4h.9M91.1 433.7h.9M72.4 422.6h.9M94.0 434.2h.9M85.3 417.7h.9M95.5 420.2h.9M76.1 426.7h.9M60.8 413.4h.9M104.0 417.3h.9M81.7 423.8h.9M100.8 425.0h.9M73.3 416.8h.9M99.9 420.1h.9M77.7 427.5h.9M101.1 437.3h.9M71.8 415.7h.9M76.9 423.7h.9M79.7 429.3h.9M50.5 428.2h.9M77.5 418.9h.9M93.5 422.5h.9M72.6 432.2h.9M93.6 417.3h.9M88.8 412.7h.9M69.8 418.8h.9M90.8 421.8h.9M75.8 410.6h.9M63.9 432.9h.9M90.9 415.0h.9M101.6 425.0h.9M80.6 416.4h.9M101.0 423.5h.9M107.5 423.7h.9M78.3 416.5h.9M76.7 422.9h.9M89.3 425.5h.9M91.9 413.1h.9M83.3 414.0h.9M92.4 411.2h.9M78.4 414.6h.9M77.9 419.1h.9M105.9 419.1h.9M67.1 418.7h.9M95.8 425.1h.9M89.2 435.9h.9M100.6 421.7h.9M102.0 411.0h.9M83.8 414.5h.9M88.3 433.1h.9M79.5 432.9h.9M72.6 431.7h.9M63.7 414.6h.9M99.1 420.3h.9M87.9 420.9h.9M88.4 419.7h.9M73.2 418.8h.9M87.5 414.3h.9M92.1 434.2h.9M64.5 416.9h.9M82.3 421.1h.9M87.3 415.6h.9M85.6 421.0h.9M84.9 432.5h.9M87.7 409.9h.9M65.4 425.4h.9M81.5 416.4h.9M68.2 418.7h.9M84.8 415.9h.9M81.4 427.6h.9M96.3 425.1h.9M83.7 410.8h.9M96.2 432.2h.9M102.7 429.7h.9M89.6 423.8h.9M85.8 430.4h.9M82.5 437.1h.9M96.2 418.6h.9M86.0 409.0h.9M76.4 418.8h.9M118.1 414.9h.9M98.0 421.6h.9M82.1 425.7h.9M59.9 428.1h.9M111.4 423.2h.9M85.2 422.2h.9M94.7 417.3h.9M87.6 424.8h.9M81.4 423.9h.9M90.4 426.3h.9M73.1 417.0h.9M80.4 430.0h.9M89.3 408.6h.9M69.3 435.5h.9M90.4 411.3h.9M74.1 422.1h.9M104.7 433.1h.9M81.2 418.8h.9M111.2 413.7h.9M106.5 423.5h.9M87.2 430.6h.9M92.3 414.7h.9M66.0 421.1h.9M92.7 431.2h.9M51.8 431.0h.9M94.1 432.4h.9M96.4 422.6h.9M91.7 424.0h.9M77.8 420.1h.9M87.7 417.6h.9M66.8 410.2h.9M92.6 424.9h.9M87.4 412.2h.9M97.2 418.1h.9M58.8 432.7h.9M66.4 437.9h.9M93.0 417.7h.9M55.2 415.7h.9M105.4 431.2h.9M89.4 408.2h.9M81.0 418.9h.9M92.1 420.1h.9M90.5 408.8h.9M77.6 431.8h.9M67.0 427.9h.9M116.3 425.9h.9M67.8 430.3h.9M61.7 423.5h.9M80.6 430.3h.9M101.5 422.4h.9M109.5 428.4h.9M79.7 413.6h.9M118.3 418.0h.9M91.4 420.1h.9M79.8 408.9h.9M84.1 420.1h.9M98.9 417.1h.9M65.5 412.9h.9M85.5 422.9h.9M95.5 418.1h.9M93.1 422.1h.9M108.1 420.6h.9M87.9 425.3h.9M102.0 414.1h.9M79.8 418.9h.9M58.1 430.8h.9M100.1 421.2h.9M112.5 432.8h.9M97.9 410.4h.9M106.1 424.2h.9M70.3 421.4h.9M95.9 428.4h.9M88.3 417.1h.9M96.0 415.3h.9M85.0 426.7h.9M67.1 423.8h.9M60.3 414.0h.9M69.9 420.3h.9M95.4 420.6h.9M98.0 421.7h.9M83.3 424.7h.9M82.9 422.0h.9M99.7 416.7h.9M101.1 412.7h.9M83.1 408.0h.9M79.0 432.9h.9M90.7 430.5h.9M66.7 413.4h.9M92.1 427.2h.9M97.0 408.4h.9M92.7 420.5h.9M87.6 424.6h.9M82.3 408.3h.9M72.0 410.1h.9M68.7 420.0h.9M103.2 415.6h.9M76.0 412.4h.9M63.3 421.5h.9M79.6 419.2h.9M73.4 424.7h.9M70.2 425.1h.9M77.3 426.9h.9M74.3 424.3h.9M91.8 420.4h.9M107.5 422.3h.9M74.3 426.2h.9M75.2 416.9h.9M86.2 422.4h.9M108.4 407.9h.9M82.6 429.5h.9M83.9 423.4h.9M106.1 411.7h.9M86.6 427.0h.9M78.3 407.8h.9M72.9 422.5h.9M88.5 434.9h.9M103.5 409.3h.9M99.6 427.9h.9M107.3 419.9h.9M78.7 422.1h.9M106.3 425.7h.9M108.3 426.9h.9M78.3 413.4h.9M110.4 409.6h.9M81.4 418.6h.9M74.0 416.7h.9M86.1 438.9h.9M85.1 417.1h.9M87.6 428.1h.9M75.3 417.9h.9M63.0 426.3h.9M95.0 432.3h.9M70.2 437.4h.9M97.5 418.9h.9M80.9 418.7h.9M70.0 426.8h.9M78.0 415.5h.9M92.8 421.8h.9M78.3 419.2h.9M79.5 431.2h.9M99.2 415.5h.9M85.5 431.4h.9M82.2 434.4h.9M91.9 426.1h.9M58.7 427.4h.9M90.5 425.4h.9M92.3 425.0h.9M79.3 427.8h.9M86.8 413.1h.9M72.6 422.2h.9M90.4 404.3h.9M58.8 428.9h.9M85.8 442.5h.9M65.8 419.1h.9M78.1 425.2h.9M104.6 433.2h.9M72.7 430.3h.9M70.0 423.3h.9M88.3 425.7h.9M75.5 431.1h.9M85.1 420.9h.9M82.5 412.9h.9M95.5 423.5h.9M92.0 435.1h.9M74.6 418.9h.9M86.1 427.5h.9M83.7 428.1h.9M92.0 407.7h.9M77.0 405.6h.9M82.2 417.8h.9M93.8 422.3h.9M85.2 430.5h.9M93.8 411.7h.9M76.9 423.5h.9M108.4 419.5h.9M83.8 423.0h.9M96.3 420.3h.9M89.9 417.8h.9M78.7 415.0h.9M94.7 416.8h.9M93.2 424.1h.9M98.8 400.7h.9M73.3 411.8h.9M83.8 427.1h.9M119.4 432.7h.9M103.9 423.9h.9M80.9 425.1h.9M57.3 428.1h.9M86.1 425.7h.9M72.4 412.7h.9M77.5 420.7h.9M90.6 418.3h.9M90.6 426.2h.9M70.7 420.2h.9M65.5 416.8h.9M97.9 415.6h.9M110.6 424.8h.9M97.7 421.8h.9M97.4 429.3h.9M87.4 417.0h.9M78.8 435.6h.9M83.6 417.5h.9M76.7 408.2h.9M79.4 423.5h.9M79.6 415.2h.9M91.4 424.5h.9M80.2 423.3h.9M73.2 427.5h.9M73.0 418.4h.9M87.8 417.8h.9M70.9 436.9h.9M106.0 407.8h.9M87.6 411.4h.9M90.1 411.1h.9M93.7 425.0h.9M108.5 430.1h.9M80.0 428.2h.9M80.0 420.1h.9M79.4 407.6h.9M94.0 405.6h.9M82.9 425.0h.9M87.5 409.0h.9M77.4 426.2h.9M100.5 433.1h.9M62.1 424.5h.9M79.7 426.8h.9M63.7 419.9h.9M95.3 416.1h.9M81.2 413.6h.9M100.7 410.9h.9M74.0 418.5h.9M81.8 437.0h.9M89.6 414.7h.9M93.7 423.6h.9M89.7 420.5h.9M92.1 412.1h.9M70.1 417.8h.9M71.4 426.3h.9M111.6 430.4h.9M91.9 423.6h.9M77.0 411.1h.9M93.2 409.8h.9M90.0 419.9h.9M95.9 421.4h.9M87.4 416.6h.9M63.3 418.4h.9M95.2 428.9h.9M104.2 413.4h.9M73.6 426.3h.9M80.0 440.5h.9M90.1 409.5h.9M78.7 432.9h.9M61.9 422.2h.9M67.7 433.2h.9M80.1 413.2h.9M63.5 415.6h.9M52.3 417.4h.9M114.8 421.8h.9M82.5 412.2h.9M90.5 417.4h.9M74.8 431.5h.9M91.8 414.3h.9M105.5 420.6h.9M92.6 422.1h.9M101.6 425.7h.9M81.4 426.5h.9M80.8 422.0h.9M107.7 412.9h.9M72.3 418.0h.9M79.4 430.9h.9M65.0 438.4h.9M106.9 417.6h.9M88.5 418.3h.9M94.9 426.0h.9M95.9 426.8h.9M111.5 419.7h.9M95.2 419.6h.9M86.5 422.7h.9M85.3 423.6h.9M74.8 419.8h.9M78.0 412.1h.9M76.7 417.2h.9M84.0 409.1h.9M82.6 412.4h.9M75.2 422.4h.9M100.6 423.2h.9M79.5 417.7h.9M103.7 408.6h.9M101.1 409.6h.9M77.6 421.4h.9M83.1 433.6h.9M92.5 420.6h.9M98.6 421.3h.9M75.4 429.5h.9M105.8 430.7h.9M70.5 435.5h.9M80.5 426.8h.9M101.8 439.1h.9M64.7 413.2h.9M101.6 424.8h.9M81.9 398.7h.9M91.8 419.6h.9M51.5 441.4h.9M52.9 416.7h.9M85.9 422.8h.9M96.0 419.0h.9M74.1 418.3h.9M58.2 412.5h.9M112.1 415.8h.9M84.9 435.5h.9M99.9 421.9h.9M95.7 418.9h.9M74.0 428.6h.9M87.8 433.2h.9M82.5 418.1h.9M90.6 419.6h.9M81.9 414.2h.9M89.4 423.5h.9M110.2 420.8h.9M62.8 424.6h.9M116.3 417.6h.9M75.4 419.7h.9M48.2 418.4h.9M83.5 409.5h.9M93.6 414.3h.9M61.5 415.5h.9M94.4 435.7h.9M102.6 422.5h.9M79.2 419.0h.9M98.8 417.1h.9M91.5 428.4h.9M74.0 416.5h.9M91.9 421.1h.9M84.4 417.0h.9M85.2 435.2h.9M104.0 408.7h.9M86.6 421.7h.9M86.5 410.5h.9M84.3 422.1h.9M77.0 423.4h.9M53.7 409.5h.9M87.3 424.0h.9M83.8 417.5h.9M88.5 429.3h.9M97.9 420.4h.9M79.8 429.1h.9M93.2 427.7h.9M82.3 414.4h.9M88.5 416.2h.9M101.2 427.5h.9M57.1 426.1h.9M103.7 428.9h.9M79.7 414.4h.9M98.9 428.7h.9M86.8 412.2h.9M65.8 423.0h.9M75.1 415.8h.9M91.9 429.0h.9M58.6 415.9h.9M103.2 420.7h.9M81.5 425.9h.9M70.9 411.7h.9M86.3 432.9h.9M99.5 421.0h.9M99.4 417.9h.9M70.4 408.2h.9M89.6 427.9h.9M90.9 420.7h.9M80.7 429.3h.9M85.4 410.0h.9M104.2 416.0h.9M91.2 421.0h.9M100.0 422.9h.9M102.3 422.6h.9M79.9 417.1h.9M94.6 414.7h.9M98.3 419.2h.9M73.7 414.3h.9M84.1 434.5h.9M96.2 421.1h.9M74.0 435.6h.9M82.3 421.0h.9M80.4 431.2h.9M88.3 417.5h.9M88.5 413.4h.9M72.0 419.8h.9M47.8 430.0h.9M112.4 412.5h.9M84.1 408.9h.9M88.3 422.6h.9M95.8 410.8h.9M78.0 416.1h.9M82.7 438.5h.9M83.4 420.7h.9M79.3 427.1h.9M120.0 429.9h.9M106.3 412.8h.9M100.0 421.2h.9M102.6 429.1h.9M94.7 408.2h.9M87.8 417.2h.9M91.9 421.3h.9M99.9 408.7h.9M76.2 420.4h.9M90.3 417.9h.9M85.6 421.4h.9M99.9 420.1h.9M89.2 407.1h.9M51.3 409.8h.9M90.7 403.4h.9M91.4 420.3h.9M86.0 415.4h.9M80.4 427.4h.9M90.7 420.8h.9M79.5 422.6h.9M101.8 420.9h.9M81.1 412.0h.9M87.3 414.0h.9M66.9 427.7h.9M77.7 405.4h.9M76.5 435.1h.9M84.6 410.9h.9M71.4 426.5h.9M91.4 422.6h.9M83.4 424.7h.9M106.4 424.7h.9M83.8 410.3h.9M91.9 433.0h.9M94.6 411.4h.9M88.5 431.0h.9M77.6 424.8h.9M102.1 433.5h.9M64.9 407.6h.9M91.0 426.4h.9M81.3 420.8h.9M80.6 430.2h.9M56.6 423.0h.9M69.0 415.8h.9M65.6 414.0h.9M85.7 421.2h.9M109.8 419.3h.9M90.6 423.7h.9M89.4 432.3h.9M87.8 422.1h.9M84.5 421.0h.9M85.3 428.6h.9M86.3 421.5h.9M85.4 426.8h.9M79.7 428.2h.9M78.4 426.3h.9M111.5 422.8h.9M84.8 411.9h.9M95.8 421.1h.9M98.1 416.0h.9M92.9 434.9h.9M91.4 418.5h.9M68.7 420.9h.9M94.8 425.6h.9M71.1 413.1h.9M73.0 413.2h.9M82.3 423.0h.9M111.6 422.5h.9M105.4 408.3h.9M106.5 427.1h.9M91.9 427.3h.9M94.2 435.7h.9M96.7 407.6h.9M62.7 433.4h.9M84.9 431.2h.9M81.4 416.0h.9M81.4 423.4h.9M88.5 416.2h.9M93.2 425.7h.9M73.8 412.4h.9M59.9 418.6h.9M86.1 415.6h.9M78.0 420.0h.9M86.4 425.4h.9M97.1 424.4h.9M100.9 413.5h.9M94.1 423.9h.9M72.1 415.8h.9M91.9 421.6h.9M69.2 416.7h.9M106.3 427.5h.9M87.1 431.4h.9M73.9 419.7h.9M98.8 418.4h.9M71.1 425.5h.9M107.4 401.5h.9M88.1 411.4h.9M82.0 410.1h.9M120.7 415.8h.9M86.6 415.6h.9M72.8 417.5h.9M88.8 434.5h.9M89.8 433.1h.9M71.8 421.6h.9M80.2 408.9h.9M89.3 415.2h.9M78.3 413.0h.9M99.7 417.9h.9M84.1 422.4h.9M69.6 422.8h.9M83.7 424.4h.9M80.9 421.3h.9M92.9 428.4h.9M76.8 428.5h.9M72.8 419.5h.9M87.7 422.1h.9M52.7 413.5h.9M83.5 428.1h.9M76.6 432.6h.9M62.0 421.6h.9M93.2 421.1h.9M89.5 428.2h.9M75.3 425.5h.9M100.2 419.2h.9M55.1 411.8h.9M74.6 412.8h.9M91.8 414.8h.9M119.1 425.4h.9M68.6 418.8h.9M106.4 426.2h.9M72.4 429.0h.9M79.7 438.1h.9M78.6 425.6h.9M93.5 417.6h.9M84.0 429.9h.9M92.6 420.5h.9M91.9 434.5h.9M98.4 424.7h.9M90.4 408.9h.9M87.8 417.2h.9M95.8 416.3h.9M92.0 412.9h.9M97.9 415.4h.9M85.6 425.5h.9M81.7 421.1h.9M100.1 434.6h.9M61.9 414.0h.9M95.0 428.2h.9M79.7 421.7h.9M83.4 438.5h.9M83.3 411.8h.9M65.3 411.2h.9M103.4 418.0h.9M112.0 425.9h.9M91.1 426.0h.9M96.5 428.1h.9M73.0 416.7h.9M78.7 421.8h.9M82.7 411.5h.9M76.7 434.8h.9M114.3 414.4h.9M91.1 420.7h.9M74.7 426.5h.9M85.1 433.9h.9M92.1 418.6h.9M50.7 420.2h.9M97.3 415.5h.9M97.8 426.3h.9M62.4 419.5h.9M90.3 426.8h.9M88.1 420.9h.9M81.4 418.8h.9M86.0 412.8h.9M94.6 418.5h.9M93.0 417.1h.9M91.5 422.0h.9M97.9 424.6h.9M98.4 419.7h.9M85.3 419.0h.9M69.3 420.0h.9M100.5 426.9h.9M74.7 423.3h.9M96.0 410.5h.9M90.7 423.5h.9M96.0 423.0h.9M62.8 405.5h.9M112.5 418.0h.9M103.0 430.7h.9M87.2 412.2h.9M104.2 420.7h.9M92.9 424.7h.9M98.7 428.8h.9M67.0 410.2h.9M87.9 421.1h.9M96.4 420.0h.9M83.6 436.6h.9M104.3 429.9h.9M99.8 414.9h.9M84.9 420.5h.9M71.4 414.3h.9M88.1 411.7h.9M93.2 424.6h.9M82.9 418.4h.9M94.0 424.7h.9M90.9 411.6h.9M64.4 436.7h.9M77.3 418.2h.9M61.7 414.9h.9M76.2 427.1h.9M50.8 410.2h.9M80.5 417.2h.9M75.7 417.6h.9M65.0 423.1h.9M101.9 422.2h.9M78.8 430.7h.9M92.5 413.1h.9M78.4 416.3h.9M85.4 430.3h.9M76.6 419.9h.9M87.5 411.9h.9M79.6 425.7h.9M101.1 406.6h.9M95.4 418.8h.9M103.2 425.8h.9M112.3 423.4h.9M80.7 414.6h.9M66.9 425.3h.9M92.9 427.3h.9M90.7 409.5h.9M80.6 419.1h.9M88.1 426.9h.9M104.9 423.2h.9M58.5 413.2h.9M57.5 415.1h.9M70.0 422.8h.9M83.1 429.5h.9M100.4 417.5h.9M98.6 421.1h.9M92.1 431.3h.9M70.7 420.5h.9M106.5 415.2h.9M88.9 422.0h.9M80.5 411.0h.9M76.8 413.5h.9M100.4 422.9h.9M95.4 411.9h.9M92.7 422.1h.9M100.0 415.5h.9M96.8 431.5h.9M110.1 413.9h.9M71.0 409.8h.9M98.8 425.6h.9M90.6 414.4h.9M102.7 433.3h.9M85.5 420.1h.9M101.9 424.9h.9M103.9 417.9h.9M90.5 418.4h.9M78.4 418.7h.9M82.2 424.9h.9M82.0 421.5h.9M75.2 411.6h.9M105.1 413.5h.9M110.2 428.2h.9M55.5 416.1h.9M80.4 421.2h.9M55.3 413.2h.9M93.4 418.6h.9M85.7 412.3h.9M41.6 435.0h.9M52.5 407.6h.9M55.5 431.9h.9M55.7 411.9h.9M77.0 431.1h.9M54.5 416.4h.9M50.3 450.4h.9M55.0 439.7h.9M56.1 424.6h.9M5.7 422.0h.9M61.4 416.4h.9M49.1 404.7h.9M20.3 421.9h.9M43.0 419.0h.9M55.2 414.3h.9M40.6 440.9h.9M30.6 414.3h.9M52.2 407.0h.9M34.5 429.7h.9M84.9 421.5h.9M92.9 410.8h.9M88.9 438.9h.9M50.0 440.3h.9M38.6 407.3h.9M58.9 410.9h.9M77.1 407.6h.9M62.3 398.0h.9M59.2 431.8h.9M53.0 423.5h.9M89.2 407.7h.9M26.2 420.9h.9M67.5 417.0h.9M34.2 433.6h.9M29.1 417.1h.9M58.9 428.2h.9M48.2 410.8h.9M113.8 410.5h.9M81.3 418.3h.9M47.4 419.5h.9M53.3 423.5h.9M62.0 409.1h.9M49.8 446.3h.9M109.3 427.2h.9M66.3 416.6h.9M97.1 415.0h.9M38.2 427.8h.9M34.3 411.1h.9M98.7 402.0h.9M58.3 421.3h.9M67.0 403.7h.9M54.0 416.3h.9M111.3 431.3h.9M40.0 429.8h.9M77.5 418.7h.9M53.6 416.9h.9M19.0 412.9h.9M85.1 436.2h.9M109.5 415.8h.9M76.5 393.0h.9M52.9 405.8h.9M82.0 401.4h.9M32.3 407.6h.9M70.7 429.4h.9M35.6 440.2h.9M64.4 410.7h.9M69.4 419.8h.9M82.3 423.9h.9M118.5 433.1h.9M43.1 428.8h.9M80.4 408.8h.9M40.2 410.9h.9M54.4 433.8h.9M45.2 420.9h.9M79.5 430.9h.9M68.6 408.3h.9M118.8 429.8h.9M96.4 438.2h.9M97.5 424.7h.9M72.7 427.1h.9M20.1 429.1h.9M34.2 424.7h.9M33.2 428.0h.9M47.2 447.9h.9M65.3 425.7h.9M36.0 416.8h.9M58.6 416.8h.9M48.6 410.2h.9M80.5 415.7h.9M38.5 424.1h.9M38.6 418.1h.9M46.5 409.6h.9M54.2 410.8h.9M26.8 424.0h.9M52.3 403.6h.9M49.7 422.1h.9M71.6 424.2h.9M66.9 426.7h.9M47.1 411.1h.9M76.5 415.4h.9M60.5 427.3h.9M85.2 433.7h.9M41.9 415.9h.9M75.0 404.0h.9M26.7 426.8h.9M43.9 409.7h.9M81.6 426.0h.9M84.6 416.3h.9M52.5 416.2h.9M68.1 397.3h.9M41.8 427.9h.9M39.5 419.3h.9M63.5 425.8h.9M47.6 407.3h.9M126.6 412.0h.9M105.7 400.3h.9M63.2 417.8h.9M110.6 442.8h.9M86.2 408.7h.9M38.9 411.6h.9M46.5 422.9h.9M39.3 417.3h.9M99.3 436.1h.9M10.8 409.4h.9M50.3 434.5h.9M51.5 441.4h.9M69.9 436.1h.9M37.4 416.5h.9M87.3 426.4h.9M10.7 416.9h.9M65.0 427.0h.9M43.4 439.5h.9M64.3 436.2h.9M71.0 421.0h.9M51.8 407.0h.9M83.2 428.5h.9M85.0 415.8h.9M33.6 415.8h.9M52.0 419.9h.9M86.4 409.8h.9M47.3 427.7h.9M84.2 444.7h.9M74.2 410.6h.9M32.7 411.2h.9M62.2 422.8h.9M58.5 413.2h.9M55.4 419.2h.9M76.0 420.9h.9M38.8 407.0h.9M99.6 419.1h.9M55.6 419.7h.9M90.2 416.5h.9M65.0 417.4h.9M75.6 408.8h.9M65.7 431.5h.9M91.7 426.9h.9M68.1 437.5h.9M79.1 435.6h.9M28.5 407.8h.9M81.5 417.1h.9M48.9 409.4h.9M99.7 406.7h.9M63.1 404.5h.9M55.7 445.0h.9M124.8 414.5h.9M33.6 438.2h.9M37.7 400.2h.9M69.6 408.0h.9M21.9 432.5h.9M41.0 408.2h.9M64.8 417.9h.9M90.1 421.1h.9M102.5 432.7h.9M107.5 432.5h.9M62.3 426.1h.9M61.0 402.7h.9M29.3 428.3h.9M26.4 419.3h.9M33.0 422.8h.9M55.2 414.8h.9M38.0 395.3h.9M62.4 405.6h.9M52.6 424.2h.9M88.1 427.8h.9M99.5 404.2h.9M78.3 437.5h.9M70.9 407.7h.9M70.9 414.3h.9M43.4 431.9h.9M55.7 407.6h.9M42.5 441.9h.9M38.1 427.5h.9M65.1 433.0h.9M53.0 409.5h.9M43.5 408.6h.9M52.0 434.0h.9M77.8 418.0h.9M76.9 423.0h.9M90.2 438.4h.9M52.1 419.6h.9M55.6 433.6h.9M70.6 428.7h.9M84.2 413.0h.9M63.8 435.4h.9M84.8 429.1h.9M53.0 416.0h.9M37.8 417.0h.9M58.8 404.1h.9M91.1 411.5h.9M67.1 426.7h.9M45.9 399.9h.9M85.9 424.6h.9M53.8 432.6h.9M84.1 409.4h.9M58.3 400.4h.9M53.5 435.7h.9M38.3 429.2h.9M20.7 416.8h.9M85.3 439.1h.9M72.4 428.4h.9M105.8 392.9h.9M15.4 441.1h.9M125.5 426.7h.9M62.2 422.9h.9M61.2 413.2h.9M60.0 418.6h.9M78.1 427.6h.9M86.3 426.6h.9M34.9 435.5h.9M69.2 414.1h.9M109.7 407.9h.9M29.7 414.4h.9M71.5 428.9h.9M63.3 427.5h.9M42.0 413.3h.9M63.9 405.1h.9M65.4 415.6h.9M78.4 408.8h.9M46.6 413.7h.9M50.8 408.9h.9M53.6 405.0h.9M74.5 427.5h.9M60.1 417.9h.9M37.1 409.4h.9M54.7 410.0h.9M29.6 421.9h.9M59.9 415.5h.9M39.1 419.4h.9M42.3 415.3h.9M65.3 428.0h.9M80.3 413.3h.9M92.1 407.2h.9M55.9 434.5h.9M122.7 421.5h.9M51.0 415.9h.9M28.7 418.4h.9M49.3 411.7h.9M91.8 411.4h.9M104.8 429.4h.9M77.2 413.5h.9M47.1 397.9h.9M67.6 417.0h.9M70.6 412.6h.9M73.2 403.4h.9M88.6 385.1h.9M94.1 416.1h.9M56.2 402.9h.9M34.3 427.9h.9M41.2 419.6h.9M56.4 442.1h.9M83.7 405.4h.9M47.9 407.3h.9M24.1 412.4h.9M89.2 420.6h.9M78.0 418.5h.9M49.4 420.9h.9M58.4 441.4h.9M107.3 424.2h.9M76.1 397.9h.9M57.2 446.6h.9M39.5 429.1h.9M92.3 415.6h.9M54.5 415.0h.9M81.2 420.3h.9M99.6 433.2h.9M60.1 448.9h.9M52.3 413.2h.9M54.2 410.2h.9M49.4 419.2h.9M83.6 402.4h.9M23.9 411.4h.9M52.4 425.1h.9M39.8 436.8h.9M46.6 417.6h.9M61.8 433.0h.9M68.1 420.3h.9M46.2 421.9h.9M70.9 416.1h.9M59.8 399.5h.9M46.5 433.2h.9M97.4 419.2h.9M55.9 448.6h.9M49.6 431.2h.9M44.3 435.3h.9M90.5 408.2h.9M94.1 451.9h.9M54.5 406.5h.9M67.5 415.6h.9M21.3 408.3h.9M66.7 403.0h.9M88.5 425.0h.9M55.7 435.6h.9M36.2 427.7h.9M25.0 416.4h.9M77.0 414.0h.9M57.3 427.3h.9M99.9 434.5h.9M72.3 417.1h.9M22.7 439.2h.9M109.1 396.0h.9M82.9 419.5h.9M78.7 423.5h.9M55.3 420.0h.9M59.3 433.0h.9M53.5 413.9h.9M77.3 427.2h.9M71.6 423.2h.9M98.6 432.5h.9M65.8 417.7h.9M77.4 399.1h.9M46.7 412.1h.9M64.7 415.7h.9M124.3 428.2h.9M70.8 445.1h.9M60.2 416.4h.9M92.3 429.3h.9M84.3 433.5h.9M50.8 412.6h.9M41.6 421.2h.9M86.3 408.3h.9M46.4 405.1h.9M112.2 428.9h.9M66.0 406.4h.9M33.5 412.8h.9M61.1 405.8h.9M54.4 433.7h.9M60.6 421.1h.9M5.9 417.0h.9M56.5 412.3h.9M24.3 419.2h.9M33.7 413.9h.9M18.8 419.0h.9M83.9 410.6h.9M68.7 403.0h.9M75.3 426.1h.9M50.2 429.9h.9M37.5 420.5h.9M103.9 419.7h.9M31.1 432.9h.9M74.2 416.9h.9M13.1 398.9h.9M20.8 436.6h.9M67.9 410.5h.9M90.1 436.4h.9M38.4 425.4h.9M17.5 424.2h.9M107.4 404.2h.9M61.7 412.9h.9M57.8 421.0h.9M67.5 430.0h.9M73.6 431.7h.9M86.6 432.3h.9M42.8 424.6h.9M50.6 410.6h.9M111.0 423.3h.9M61.4 396.4h.9M54.3 428.7h.9M55.0 413.9h.9M98.4 416.5h.9M51.6 418.9h.9M54.1 431.8h.9M75.0 419.2h.9M50.9 417.5h.9M104.0 416.6h.9M77.2 402.3h.9M68.6 427.7h.9M93.2 423.6h.9M75.2 423.6h.9M87.9 443.0h.9M65.5 410.9h.9M75.6 418.8h.9M76.8 428.7h.9M64.2 415.1h.9M68.2 406.0h.9M67.3 410.1h.9M71.9 421.4h.9M54.6 406.5h.9M61.6 412.4h.9M56.6 427.8h.9M84.9 405.6h.9M84.4 435.3h.9M89.4 423.1h.9M57.9 439.5h.9M52.0 402.9h.9M62.6 423.2h.9M33.5 406.3h.9M111.5 421.3h.9M80.4 413.5h.9M21.1 418.0h.9M94.9 412.5h.9M14.0 418.1h.9M53.0 420.2h.9M33.3 416.5h.9M46.2 429.9h.9M64.2 429.8h.9M59.0 396.1h.9M9.8 426.0h.9M82.9 429.8h.9M58.4 400.0h.9M47.6 424.5h.9M95.9 416.2h.9M45.8 411.3h.9M86.6 429.8h.9M13.1 433.6h.9M36.5 403.5h.9M19.1 411.8h.9M120.2 448.7h.9M28.2 412.5h.9M64.4 424.7h.9M47.9 402.2h.9M49.6 412.4h.9M14.0 421.6h.9M22.4 400.5h.9M99.5 430.6h.9M97.7 421.3h.9M49.6 419.0h.9M25.0 428.3h.9M67.3 416.6h.9M12.0 418.8h.9M102.3 436.3h.9M82.9 416.1h.9M63.9 426.2h.9M65.3 431.8h.9M43.1 393.9h.9M24.6 427.5h.9M88.1 420.0h.9M74.2 420.9h.9M64.8 414.7h.9M49.9 433.4h.9M53.4 419.5h.9M91.2 431.1h.9M50.2 422.8h.9M34.2 421.5h.9M68.5 420.0h.9M64.5 424.1h.9M62.3 414.5h.9M35.4 417.3h.9M101.9 417.4h.9M43.5 414.6h.9M29.6 425.5h.9M34.8 430.2h.9M83.8 426.4h.9M87.2 419.0h.9M14.8 419.3h.9M76.8 402.6h.9M28.7 432.3h.9M71.6 435.1h.9M77.6 420.8h.9M71.4 429.5h.9M59.6 417.6h.9M68.4 416.5h.9M122.7 411.4h.9M21.1 405.5h.9M87.4 415.5h.9M64.4 417.6h.9M67.5 403.7h.9M62.5 413.6h.9M88.5 427.0h.9M27.7 409.1h.9M75.1 433.4h.9M80.2 418.3h.9M89.2 393.5h.9M46.4 409.0h.9M33.6 426.3h.9M67.5 423.2h.9M56.9 427.0h.9M80.7 413.6h.9M84.6 409.6h.9M106.1 405.3h.9M52.9 407.8h.9M61.4 434.8h.9M40.8 440.0h.9M97.0 424.3h.9M45.0 430.2h.9M85.4 419.6h.9M125.0 412.4h.9M25.7 417.6h.9M75.4 439.2h.9M14.4 421.8h.9M93.3 412.4h.9M48.5 406.3h.9M80.3 429.4h.9M75.7 422.8h.9M86.2 418.6h.9M79.1 429.2h.9M94.3 425.8h.9M62.6 428.0h.9M19.9 400.1h.9M102.6 421.6h.9M32.9 413.5h.9M56.4 420.8h.9M40.4 431.2h.9M15.8 451.6h.9M32.0 438.8h.9M77.8 401.0h.9M28.3 420.7h.9M67.5 415.2h.9M60.7 421.8h.9M30.4 420.7h.9M120.0 412.7h.9M33.8 427.5h.9M95.7 431.8h.9M43.8 419.2h.9M65.7 417.6h.9M70.9 432.3h.9M74.7 419.9h.9M55.0 440.2h.9M28.0 442.7h.9M79.8 421.0h.9M40.8 440.8h.9M92.4 430.3h.9M115.3 399.7h.9M63.0 416.5h.9M41.2 420.9h.9M74.5 426.0h.9M56.7 405.0h.9M75.1 426.9h.9M116.4 430.6h.9M60.8 407.0h.9M65.6 428.5h.9M73.7 435.1h.9M33.0 412.2h.9M65.0 406.0h.9M44.1 435.7h.9M68.2 418.8h.9M45.3 420.5h.9M59.5 407.8h.9M81.3 405.5h.9M120.4 381.3h.9M64.3 357.4h.9M104.8 370.8h.9M121.5 376.0h.9M120.8 379.4h.9M99.4 361.1h.9M101.1 396.0h.9M99.2 366.1h.9M114.5 406.1h.9M98.8 403.5h.9M115.8 368.5h.9M99.7 351.1h.9M83.8 396.5h.9M86.3 395.8h.9M105.9 347.1h.9M92.5 418.1h.9M100.4 390.5h.9M89.0 356.2h.9M75.0 445.1h.9M97.3 370.7h.9M102.0 349.5h.9M122.4 422.0h.9M88.3 394.4h.9M85.9 405.0h.9M86.8 385.2h.9M121.0 398.4h.9M95.0 357.8h.9M74.8 411.9h.9M108.4 389.1h.9M120.2 390.9h.9M88.6 385.9h.9M98.7 387.7h.9M104.6 383.0h.9M89.4 368.2h.9M70.2 378.8h.9M76.0 351.1h.9M85.2 347.6h.9M122.1 412.8h.9M84.7 428.8h.9M100.5 368.1h.9M72.4 382.8h.9M118.6 396.9h.9M76.8 374.8h.9M88.1 410.9h.9M98.6 368.5h.9M85.6 348.7h.9M86.7 405.9h.9M69.6 391.8h.9M98.4 404.3h.9M81.8 406.2h.9M125.0 433.7h.9M74.1 387.4h.9M96.8 390.5h.9M84.3 405.1h.9M84.9 376.5h.9M111.8 390.7h.9M87.9 412.7h.9M108.5 408.5h.9M97.3 413.6h.9M92.7 365.6h.9M100.0 360.1h.9M120.2 402.7h.9M73.1 391.4h.9M113.7 380.8h.9M106.8 376.3h.9M99.0 386.3h.9M107.9 368.6h.9M82.0 394.6h.9M92.0 398.4h.9M92.0 361.7h.9M112.0 393.3h.9M111.9 381.2h.9M94.3 413.3h.9M72.9 422.8h.9M108.4 386.9h.9M101.5 400.1h.9M87.7 393.6h.9M84.8 351.0h.9M103.3 390.0h.9M110.5 399.2h.9M111.3 403.8h.9M83.1 412.4h.9M79.8 401.7h.9M114.8 408.3h.9M124.8 360.2h.9M106.1 397.3h.9M120.2 370.1h.9M100.5 380.6h.9M97.5 385.1h.9M97.6 352.5h.9M99.5 389.4h.9M88.9 374.9h.9M86.1 420.2h.9M115.0 384.3h.9M109.7 454.1h.9M84.5 397.5h.9M90.4 417.8h.9M117.9 385.5h.9M109.9 372.0h.9M74.6 404.9h.9M126.4 381.9h.9M91.6 352.0h.9M84.5 384.1h.9M119.6 389.1h.9M99.7 388.4h.9M113.7 387.3h.9M102.6 386.5h.9M82.2 415.0h.9M88.9 361.5h.9M93.0 388.6h.9M113.2 358.5h.9M79.6 391.6h.9M106.2 366.0h.9M81.8 391.5h.9M97.7 355.5h.9M85.9 417.8h.9M83.0 409.1h.9M75.4 417.8h.9M125.8 375.3h.9M89.1 400.6h.9M80.1 399.1h.9M119.6 393.3h.9M105.2 384.8h.9M116.2 371.5h.9M125.6 387.5h.9M94.8 355.2h.9M92.9 392.8h.9M120.0 355.6h.9M98.0 374.2h.9M80.8 388.1h.9M87.8 405.5h.9M56.7 402.8h.9M69.4 348.8h.9M108.4 381.2h.9M102.1 368.6h.9M83.1 373.2h.9M99.1 371.1h.9M93.3 370.7h.9M103.8 365.2h.9M99.7 389.9h.9M103.8 377.7h.9M30.0 355.1h.9M96.7 381.2h.9M104.7 397.6h.9M60.4 344.0h.9M46.2 423.8h.9M48.6 420.4h.9M12.2 430.6h.9M81.3 362.8h.9M51.5 380.3h.9M39.7 423.8h.9M75.2 422.4h.9M100.0 365.5h.9M22.7 414.0h.9M71.2 402.4h.9M41.4 430.7h.9M87.5 434.4h.9M57.6 420.9h.9M67.9 371.7h.9M67.2 350.1h.9M63.7 405.4h.9M94.4 368.3h.9M23.4 378.0h.9M43.3 379.5h.9M66.0 397.6h.9" stroke="#1a1a1a" stroke-width="0.9" stroke-opacity="0.68" fill="none"/>
<rect x="3.50" y="337.50" width="127.00" height="126.00" fill="none" stroke="#777" stroke-width="1"/>
<rect x="11.90" y="381.40" width="50.40" height="69.80" fill="none" stroke="#111" stroke-width="1.7" rx="9"/>
<rect x="65.20" y="381.40" width="50.90" height="69.80" fill="none" stroke="#111" stroke-width="1.7" rx="9"/>
<text x="39.70" y="377.20" font-size="15.2" text-anchor="middle" textLength="28.40" lengthAdjust="spacingAndGlyphs">Neg</text>
<text x="91.60" y="377.20" font-size="15.2" text-anchor="middle" textLength="24.40" lengthAdjust="spacingAndGlyphs">Pos</text>
<text x="64.60" y="485.00" font-size="15.2" text-anchor="middle" textLength="51.20" lengthAdjust="spacingAndGlyphs">ICAM-1</text>
<path d="M112 349.8 H140.4 V345.2 L148.5 353.4 L140.4 361.6 V357.2 H112 Z" fill="#fff" stroke="#111" stroke-width="1.3" stroke-linejoin="miter"/>
<line x1="200.30" y1="312.80" x2="200.30" y2="465.65" stroke="#000" stroke-width="2.6" stroke-linecap="butt"/>
<line x1="193.00" y1="464.40" x2="200.30" y2="464.40" stroke="#000" stroke-width="2.3" stroke-linecap="butt"/>
<text x="190.70" y="470.10" font-size="15.3" text-anchor="end" textLength="9.10" lengthAdjust="spacingAndGlyphs">0</text>
<line x1="193.00" y1="434.30" x2="200.30" y2="434.30" stroke="#000" stroke-width="2.3" stroke-linecap="butt"/>
<text x="190.70" y="440.00" font-size="15.3" text-anchor="end" textLength="18.20" lengthAdjust="spacingAndGlyphs">10</text>
<line x1="193.00" y1="404.20" x2="200.30" y2="404.20" stroke="#000" stroke-width="2.3" stroke-linecap="butt"/>
<text x="190.70" y="409.90" font-size="15.3" text-anchor="end" textLength="18.20" lengthAdjust="spacingAndGlyphs">20</text>
<line x1="193.00" y1="374.10" x2="200.30" y2="374.10" stroke="#000" stroke-width="2.3" stroke-linecap="butt"/>
<text x="190.70" y="379.80" font-size="15.3" text-anchor="end" textLength="18.20" lengthAdjust="spacingAndGlyphs">30</text>
<line x1="193.00" y1="344.00" x2="200.30" y2="344.00" stroke="#000" stroke-width="2.3" stroke-linecap="butt"/>
<text x="190.70" y="349.70" font-size="15.3" text-anchor="end" textLength="18.20" lengthAdjust="spacingAndGlyphs">40</text>
<line x1="193.00" y1="313.90" x2="200.30" y2="313.90" stroke="#000" stroke-width="2.3" stroke-linecap="butt"/>
<text x="190.70" y="319.60" font-size="15.3" text-anchor="end" textLength="18.20" lengthAdjust="spacingAndGlyphs">50</text>
<line x1="212.90" y1="398.90" x2="212.90" y2="406.60" stroke="#000" stroke-width="2.3" stroke-linecap="butt"/>
<line x1="208.70" y1="399.80" x2="217.10" y2="399.80" stroke="#000" stroke-width="2.2" stroke-linecap="butt"/>
<rect x="204.60" y="406.80" width="16.60" height="57.60" fill="#fff" stroke="#000" stroke-width="2.4"/>
<line x1="238.40" y1="344.30" x2="238.40" y2="357.70" stroke="#000" stroke-width="2.3" stroke-linecap="butt"/>
<line x1="234.20" y1="345.20" x2="242.60" y2="345.20" stroke="#000" stroke-width="2.2" stroke-linecap="butt"/>
<rect x="230.10" y="357.90" width="16.60" height="106.50" fill="#fff" stroke="#000" stroke-width="2.4"/>
<line x1="193.20" y1="464.40" x2="252.20" y2="464.40" stroke="#000" stroke-width="2.6" stroke-linecap="butt"/>
<line x1="212.90" y1="464.40" x2="212.90" y2="471.80" stroke="#000" stroke-width="2.3" stroke-linecap="butt"/>
<line x1="238.40" y1="464.40" x2="238.40" y2="471.80" stroke="#000" stroke-width="2.3" stroke-linecap="butt"/>
<text class="st" x="229.40 238.40 247.40" y="342.60" font-size="12.4" text-anchor="middle">***</text>
<g transform="translate(215.40,482.40) rotate(-45)">
<text x="-73.00" y="0.00" font-size="15.2" textLength="55.00" lengthAdjust="spacingAndGlyphs">ICAM-1</text>
<text x="-17.70" y="-6.60" font-size="10.5" textLength="17.70" lengthAdjust="spacingAndGlyphs">neg</text>
</g>
<g transform="translate(240.60,482.40) rotate(-45)">
<text x="-73.00" y="0.00" font-size="15.2" textLength="55.00" lengthAdjust="spacingAndGlyphs">ICAM-1</text>
<text x="-17.70" y="-6.60" font-size="10.5" textLength="17.70" lengthAdjust="spacingAndGlyphs">pos</text>
</g>
<g transform="translate(163.80,0) rotate(-90)">
<text x="-468.60" y="0.00" font-size="16" textLength="31.10" lengthAdjust="spacingAndGlyphs">DHR</text>
<text x="-436.60" y="-8.40" font-size="11.0" textLength="16.50" lengthAdjust="spacingAndGlyphs">pos</text>
<text x="-415.50" y="0.00" font-size="16" textLength="80.30" lengthAdjust="spacingAndGlyphs">neutrophils</text>
<text x="-330.20" y="0.00" font-size="16" textLength="21.80" lengthAdjust="spacingAndGlyphs">(%)</text>
</g>
<line x1="342.30" y1="377.45" x2="342.30" y2="465.75" stroke="#000" stroke-width="2.6" stroke-linecap="butt"/>
<line x1="334.80" y1="464.50" x2="342.30" y2="464.50" stroke="#000" stroke-width="2.3" stroke-linecap="butt"/>
<text x="331.10" y="470.20" font-size="15.3" text-anchor="end" textLength="9.10" lengthAdjust="spacingAndGlyphs">0</text>
<line x1="334.80" y1="435.85" x2="342.30" y2="435.85" stroke="#000" stroke-width="2.3" stroke-linecap="butt"/>
<text x="331.10" y="441.55" font-size="15.3" text-anchor="end" textLength="18.20" lengthAdjust="spacingAndGlyphs">10</text>
<line x1="334.80" y1="407.20" x2="342.30" y2="407.20" stroke="#000" stroke-width="2.3" stroke-linecap="butt"/>
<text x="331.10" y="412.90" font-size="15.3" text-anchor="end" textLength="18.20" lengthAdjust="spacingAndGlyphs">20</text>
<line x1="334.80" y1="378.55" x2="348.70" y2="378.55" stroke="#000" stroke-width="2.3" stroke-linecap="butt"/>
<text x="331.10" y="384.25" font-size="15.3" text-anchor="end" textLength="18.20" lengthAdjust="spacingAndGlyphs">30</text>
<line x1="342.30" y1="312.10" x2="342.30" y2="360.10" stroke="#000" stroke-width="2.6" stroke-linecap="butt"/>
<line x1="334.80" y1="359.00" x2="348.70" y2="359.00" stroke="#000" stroke-width="2.3" stroke-linecap="butt"/>
<text x="331.10" y="364.70" font-size="15.3" text-anchor="end" textLength="18.20" lengthAdjust="spacingAndGlyphs">50</text>
<line x1="334.80" y1="336.10" x2="342.30" y2="336.10" stroke="#000" stroke-width="2.3" stroke-linecap="butt"/>
<text x="331.10" y="341.80" font-size="15.3" text-anchor="end" textLength="18.20" lengthAdjust="spacingAndGlyphs">60</text>
<line x1="334.80" y1="313.20" x2="342.30" y2="313.20" stroke="#000" stroke-width="2.3" stroke-linecap="butt"/>
<text x="331.10" y="318.90" font-size="15.3" text-anchor="end" textLength="18.20" lengthAdjust="spacingAndGlyphs">70</text>
<line x1="353.60" y1="447.60" x2="353.60" y2="450.50" stroke="#000" stroke-width="2.3" stroke-linecap="butt"/>
<line x1="349.40" y1="448.50" x2="357.80" y2="448.50" stroke="#000" stroke-width="2.2" stroke-linecap="butt"/>
<rect x="345.30" y="450.70" width="16.60" height="13.80" fill="#fff" stroke="#000" stroke-width="2.4"/>
<line x1="378.75" y1="432.70" x2="378.75" y2="441.10" stroke="#000" stroke-width="2.3" stroke-linecap="butt"/>
<line x1="374.55" y1="433.60" x2="382.95" y2="433.60" stroke="#000" stroke-width="2.2" stroke-linecap="butt"/>
<rect x="370.45" y="441.30" width="16.60" height="23.20" fill="#fff" stroke="#000" stroke-width="2.4"/>
<line x1="403.90" y1="421.20" x2="403.90" y2="431.10" stroke="#000" stroke-width="2.3" stroke-linecap="butt"/>
<line x1="399.70" y1="422.10" x2="408.10" y2="422.10" stroke="#000" stroke-width="2.2" stroke-linecap="butt"/>
<rect x="395.60" y="431.30" width="16.60" height="33.20" fill="#fff" stroke="#000" stroke-width="2.4"/>
<line x1="429.10" y1="432.70" x2="429.10" y2="441.90" stroke="#000" stroke-width="2.3" stroke-linecap="butt"/>
<line x1="424.90" y1="433.60" x2="433.30" y2="433.60" stroke="#000" stroke-width="2.2" stroke-linecap="butt"/>
<rect x="420.80" y="442.10" width="16.60" height="22.40" fill="#fff" stroke="#000" stroke-width="2.4"/>
<line x1="454.30" y1="438.70" x2="454.30" y2="446.50" stroke="#000" stroke-width="2.3" stroke-linecap="butt"/>
<line x1="450.10" y1="439.60" x2="458.50" y2="439.60" stroke="#000" stroke-width="2.2" stroke-linecap="butt"/>
<rect x="446.00" y="446.70" width="16.60" height="17.80" fill="#fff" stroke="#000" stroke-width="2.4"/>
<line x1="479.50" y1="387.80" x2="479.50" y2="393.70" stroke="#000" stroke-width="2.3" stroke-linecap="butt"/>
<line x1="475.30" y1="388.70" x2="483.70" y2="388.70" stroke="#000" stroke-width="2.2" stroke-linecap="butt"/>
<rect x="471.20" y="393.90" width="16.60" height="70.60" fill="#fff" stroke="#000" stroke-width="2.4"/>
<line x1="504.60" y1="332.00" x2="504.60" y2="350.60" stroke="#000" stroke-width="2.3" stroke-linecap="butt"/>
<line x1="500.40" y1="332.90" x2="508.80" y2="332.90" stroke="#000" stroke-width="2.2" stroke-linecap="butt"/>
<path d="M496.30 359.10 V350.80 H512.90 V359.10" fill="none" stroke="#000" stroke-width="2.4"/>
<line x1="496.30" y1="378.35" x2="496.30" y2="464.50" stroke="#000" stroke-width="2.4" stroke-linecap="butt"/>
<line x1="512.90" y1="378.35" x2="512.90" y2="464.50" stroke="#000" stroke-width="2.4" stroke-linecap="butt"/>
<line x1="334.80" y1="464.50" x2="519.80" y2="464.50" stroke="#000" stroke-width="2.6" stroke-linecap="butt"/>
<line x1="353.60" y1="464.50" x2="353.60" y2="471.50" stroke="#000" stroke-width="2.3" stroke-linecap="butt"/>
<line x1="378.75" y1="464.50" x2="378.75" y2="471.50" stroke="#000" stroke-width="2.3" stroke-linecap="butt"/>
<line x1="403.90" y1="464.50" x2="403.90" y2="471.50" stroke="#000" stroke-width="2.3" stroke-linecap="butt"/>
<line x1="429.10" y1="464.50" x2="429.10" y2="471.50" stroke="#000" stroke-width="2.3" stroke-linecap="butt"/>
<line x1="454.30" y1="464.50" x2="454.30" y2="471.50" stroke="#000" stroke-width="2.3" stroke-linecap="butt"/>
<line x1="479.50" y1="464.50" x2="479.50" y2="471.50" stroke="#000" stroke-width="2.3" stroke-linecap="butt"/>
<line x1="504.60" y1="464.50" x2="504.60" y2="471.50" stroke="#000" stroke-width="2.3" stroke-linecap="butt"/>
<text class="st" x="399.40 408.40" y="419.20" font-size="12.4" text-anchor="middle">**</text>
<text class="st" x="470.50 479.50 488.50" y="383.80" font-size="12.4" text-anchor="middle">***</text>
<text class="st" x="495.60 504.60 513.60" y="329.90" font-size="12.4" text-anchor="middle">***</text>
<g transform="translate(354.70,488.00) rotate(-45)">
<text x="-43.30" y="0.00" font-size="15.2" textLength="43.30" lengthAdjust="spacingAndGlyphs">Saline</text>
</g>
<g transform="translate(382.10,485.00) rotate(-45)">
<text x="-37.30" y="0.00" font-size="15.2" textLength="37.30" lengthAdjust="spacingAndGlyphs">IL-1β</text>
</g>
<g transform="translate(407.50,484.80) rotate(-45)">
<text x="-30.80" y="0.00" font-size="15.2" textLength="23.80" lengthAdjust="spacingAndGlyphs">LTB</text>
<text x="-6.90" y="0.00" font-size="11.8" textLength="6.90" lengthAdjust="spacingAndGlyphs">4</text>
</g>
<g transform="translate(433.80,483.70) rotate(-45)">
<text x="-36.40" y="0.00" font-size="15.2" textLength="36.40" lengthAdjust="spacingAndGlyphs">fMLP</text>
</g>
<g transform="translate(458.10,483.50) rotate(-45)">
<text x="-19.30" y="0.00" font-size="15.2" textLength="19.30" lengthAdjust="spacingAndGlyphs">KC</text>
</g>
<g transform="translate(484.30,483.40) rotate(-45)">
<text x="-26.20" y="0.00" font-size="15.2" textLength="26.20" lengthAdjust="spacingAndGlyphs">LPS</text>
</g>
<g transform="translate(508.00,485.30) rotate(-45)">
<text x="-36.80" y="0.00" font-size="15.2" textLength="36.80" lengthAdjust="spacingAndGlyphs">TNFα</text>
</g>
<g transform="translate(304.20,0) rotate(-90)">
<text x="-467.70" y="0.00" font-size="16" textLength="31.10" lengthAdjust="spacingAndGlyphs">DHR</text>
<text x="-435.70" y="-8.40" font-size="11.0" textLength="16.50" lengthAdjust="spacingAndGlyphs">pos</text>
<text x="-414.60" y="0.00" font-size="16" textLength="80.30" lengthAdjust="spacingAndGlyphs">neutrophils</text>
<text x="-329.30" y="0.00" font-size="16" textLength="21.80" lengthAdjust="spacingAndGlyphs">(%)</text>
</g>
</svg></body></html>
